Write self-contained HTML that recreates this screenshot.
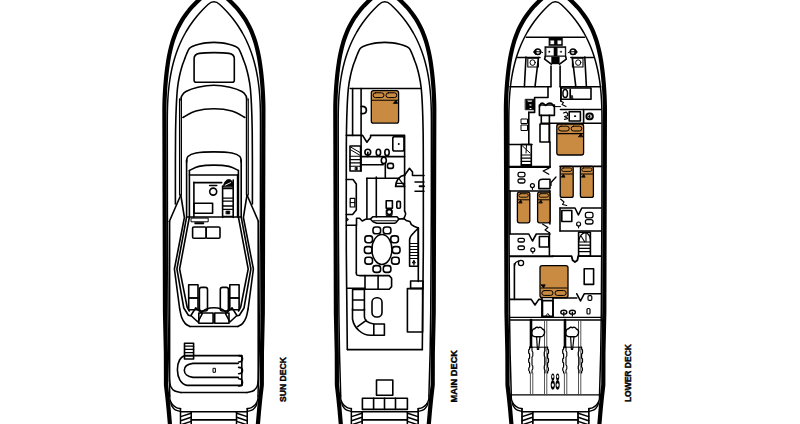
<!DOCTYPE html>
<html><head><meta charset="utf-8"><style>html,body{margin:0;padding:0;background:#fff;width:800px;height:424px;overflow:hidden}svg{display:block}</style></head>
<body>
<svg width="800" height="424" viewBox="0 0 800 424" stroke-linecap="round" stroke-linejoin="round">
<rect width="800" height="424" fill="#fff"/>
<path d="M170.60 434.00 L170.54 433.20 L170.47 432.20 L170.40 431.20 L170.33 430.20 L170.26 429.20 L170.19 428.20 L170.12 427.20 L170.05 426.20 L169.98 425.20 L169.91 424.20 L169.83 423.20 L169.75 422.20 L169.66 421.20 L169.57 420.20 L169.49 419.20 L169.40 418.20 L169.32 417.20 L169.23 416.20 L169.15 415.20 L169.06 414.20 L168.97 413.20 L168.89 412.20 L168.80 411.20 L168.72 410.20 L168.62 409.20 L168.52 408.20 L168.42 407.20 L168.32 406.20 L168.22 405.20 L168.12 404.20 L168.02 403.20 L167.92 402.20 L167.82 401.20 L167.72 400.20 L167.62 399.20 L167.52 398.20 L167.41 397.20 L167.29 396.20 L167.18 395.20 L167.06 394.20 L166.95 393.20 L166.83 392.20 L166.72 391.20 L166.60 390.20 L166.48 389.20 L166.37 388.20 L166.25 387.20 L166.14 386.20 L166.02 385.20 L166.00 384.20 L165.99 383.20 L165.99 382.20 L165.99 381.20 L165.99 380.20 L165.98 379.20 L165.98 378.20 L165.98 377.20 L165.97 376.20 L165.97 375.20 L165.97 374.20 L165.96 373.20 L165.96 372.20 L165.96 371.20 L165.95 370.20 L165.95 369.20 L165.95 368.20 L165.94 367.20 L165.94 366.20 L165.94 365.20 L165.94 364.20 L165.93 363.20 L165.93 362.20 L165.93 361.20 L165.92 360.20 L165.92 359.20 L165.92 358.20 L165.91 357.20 L165.91 356.20 L165.91 355.20 L165.90 354.20 L165.90 353.20 L165.88 352.20 L165.86 351.20 L165.84 350.20 L165.81 349.20 L165.79 348.20 L165.77 347.20 L165.75 346.20 L165.72 345.20 L165.70 344.20 L165.68 343.20 L165.66 342.20 L165.63 341.20 L165.61 340.20 L165.59 339.20 L165.57 338.20 L165.54 337.20 L165.52 336.20 L165.50 335.20 L165.48 334.20 L165.45 333.20 L165.43 332.20 L165.41 331.20 L165.39 330.20 L165.36 329.20 L165.34 328.20 L165.32 327.20 L165.30 326.20 L165.27 325.20 L165.25 324.20 L165.23 323.20 L165.21 322.20 L165.18 321.20 L165.16 320.20 L165.14 319.20 L165.12 318.20 L165.09 317.20 L165.07 316.20 L165.05 315.20 L165.03 314.20 L165.00 313.20 L165.00 312.20 L164.99 311.20 L164.99 310.20 L164.99 309.20 L164.99 308.20 L164.98 307.20 L164.98 306.20 L164.98 305.20 L164.97 304.20 L164.97 303.20 L164.97 302.20 L164.96 301.20 L164.96 300.20 L164.96 299.20 L164.96 298.20 L164.95 297.20 L164.95 296.20 L164.95 295.20 L164.94 294.20 L164.94 293.20 L164.94 292.20 L164.93 291.20 L164.93 290.20 L164.93 289.20 L164.93 288.20 L164.92 287.20 L164.92 286.20 L164.92 285.20 L164.91 284.20 L164.91 283.20 L164.91 282.20 L164.90 281.20 L164.90 280.20 L164.90 279.20 L164.90 278.20 L164.89 277.20 L164.89 276.20 L164.89 275.20 L164.88 274.20 L164.88 273.20 L164.88 272.20 L164.87 271.20 L164.87 270.20 L164.87 269.20 L164.87 268.20 L164.86 267.20 L164.86 266.20 L164.86 265.20 L164.85 264.20 L164.85 263.20 L164.85 262.20 L164.84 261.20 L164.84 260.20 L164.84 259.20 L164.84 258.20 L164.83 257.20 L164.83 256.20 L164.83 255.20 L164.82 254.20 L164.82 253.20 L164.82 252.20 L164.81 251.20 L164.81 250.20 L164.81 249.20 L164.81 248.20 L164.80 247.20 L164.80 246.20 L164.80 245.20 L164.79 244.20 L164.79 243.20 L164.79 242.20 L164.78 241.20 L164.78 240.20 L164.78 239.20 L164.78 238.20 L164.77 237.20 L164.77 236.20 L164.77 235.20 L164.76 234.20 L164.76 233.20 L164.76 232.20 L164.75 231.20 L164.75 230.20 L164.75 229.20 L164.75 228.20 L164.74 227.20 L164.74 226.20 L164.74 225.20 L164.73 224.20 L164.73 223.20 L164.73 222.20 L164.72 221.20 L164.72 220.20 L164.72 219.20 L164.72 218.20 L164.71 217.20 L164.71 216.20 L164.71 215.20 L164.70 214.20 L164.70 213.20 L164.70 212.20 L164.69 211.20 L164.69 210.20 L164.69 209.20 L164.69 208.20 L164.68 207.20 L164.68 206.20 L164.68 205.20 L164.67 204.20 L164.67 203.20 L164.67 202.20 L164.67 201.20 L164.66 200.20 L164.66 199.20 L164.66 198.20 L164.65 197.20 L164.65 196.20 L164.65 195.20 L164.65 194.20 L164.64 193.20 L164.64 192.20 L164.64 191.20 L164.63 190.20 L164.63 189.20 L164.63 188.20 L164.62 187.20 L164.62 186.20 L164.62 185.20 L164.62 184.20 L164.61 183.20 L164.61 182.20 L164.61 181.20 L164.60 180.20 L164.60 179.20 L164.60 178.20 L164.60 177.20 L164.59 176.20 L164.59 175.20 L164.59 174.20 L164.58 173.20 L164.58 172.20 L164.58 171.20 L164.58 170.20 L164.57 169.20 L164.57 168.20 L164.57 167.20 L164.56 166.20 L164.56 165.20 L164.56 164.20 L164.55 163.20 L164.55 162.20 L164.55 161.20 L164.55 160.20 L164.54 159.20 L164.54 158.20 L164.54 157.20 L164.53 156.20 L164.53 155.20 L164.53 154.20 L164.53 153.20 L164.52 152.20 L164.52 151.20 L164.52 150.20 L164.51 149.20 L164.51 148.20 L164.51 147.20 L164.51 146.20 L164.50 145.20 L164.50 144.20 L164.50 143.20 L164.49 142.20 L164.49 141.20 L164.49 140.20 L164.49 139.20 L164.48 138.20 L164.48 137.20 L164.48 136.20 L164.47 135.20 L164.47 134.20 L164.47 133.20 L164.46 132.20 L164.46 131.20 L164.46 130.20 L164.46 129.20 L164.45 128.20 L164.45 127.20 L164.45 126.20 L164.44 125.20 L164.44 124.20 L164.44 123.20 L164.44 122.20 L164.43 121.20 L164.43 120.20 L164.43 119.20 L164.42 118.20 L164.42 117.20 L164.42 116.20 L164.42 115.20 L164.41 114.20 L164.41 113.20 L164.41 112.20 L164.40 111.20 L164.40 110.20 L164.40 109.20 L164.41 108.20 L164.42 107.20 L164.43 106.20 L164.45 105.20 L164.47 104.20 L164.49 103.20 L164.52 102.20 L164.55 101.20 L164.58 100.20 L164.62 99.20 L164.66 98.20 L164.71 97.20 L164.75 96.20 L164.80 95.20 L164.85 94.20 L164.91 93.20 L164.97 92.20 L165.02 91.20 L165.09 90.20 L165.15 89.20 L165.22 88.20 L165.29 87.20 L165.36 86.20 L165.44 85.20 L165.52 84.20 L165.60 83.20 L165.68 82.20 L165.77 81.20 L165.86 80.20 L165.95 79.20 L166.04 78.20 L166.14 77.20 L166.24 76.20 L166.35 75.20 L166.45 74.20 L166.56 73.20 L166.68 72.20 L166.79 71.20 L166.92 70.20 L167.04 69.20 L167.17 68.20 L167.30 67.20 L167.44 66.20 L167.58 65.20 L167.72 64.20 L167.87 63.20 L168.02 62.20 L168.18 61.20 L168.35 60.20 L168.52 59.20 L168.69 58.20 L168.87 57.20 L169.06 56.20 L169.25 55.20 L169.45 54.20 L169.66 53.20 L169.87 52.20 L170.09 51.20 L170.32 50.20 L170.55 49.20 L170.79 48.20 L171.04 47.20 L171.30 46.20 L171.57 45.20 L171.85 44.20 L172.13 43.20 L172.43 42.20 L172.73 41.20 L173.05 40.20 L173.37 39.20 L173.71 38.20 L174.06 37.20 L174.42 36.20 L174.79 35.20 L175.18 34.20 L175.57 33.20 L175.98 32.20 L176.41 31.20 L176.84 30.20 L177.29 29.20 L177.76 28.20 L178.24 27.20 L178.74 26.20 L179.25 25.20 L179.78 24.20 L180.33 23.20 L180.89 22.20 L181.47 21.20 L182.07 20.20 L182.69 19.20 L183.32 18.20 L183.98 17.20 L184.66 16.20 L185.35 15.20 L186.07 14.20 L186.81 13.20 L187.57 12.20 L188.36 11.20 L189.16 10.20 L190.00 9.20 L190.85 8.20 L191.73 7.20 L192.64 6.20 L193.57 5.20 L194.53 4.20 L195.51 3.20 L196.53 2.20 L197.57 1.20 L198.64 0.20 L199.74 -0.80 L200.87 -1.80 L202.03 -2.80 L203.22 -3.80 L204.44 -4.80 L205.70 -5.80 L206.99 -6.80 L208.31 -7.80 L209.67 -8.80 L211.07 -9.80 L212.50 -10.80 L213.90 -11.80 L215.30 -10.80 L216.73 -9.80 L218.13 -8.80 L219.49 -7.80 L220.81 -6.80 L222.10 -5.80 L223.36 -4.80 L224.58 -3.80 L225.77 -2.80 L226.93 -1.80 L228.06 -0.80 L229.16 0.20 L230.23 1.20 L231.27 2.20 L232.29 3.20 L233.27 4.20 L234.23 5.20 L235.16 6.20 L236.07 7.20 L236.95 8.20 L237.80 9.20 L238.64 10.20 L239.44 11.20 L240.23 12.20 L240.99 13.20 L241.73 14.20 L242.45 15.20 L243.14 16.20 L243.82 17.20 L244.48 18.20 L245.11 19.20 L245.73 20.20 L246.33 21.20 L246.91 22.20 L247.47 23.20 L248.02 24.20 L248.55 25.20 L249.06 26.20 L249.56 27.20 L250.04 28.20 L250.51 29.20 L250.96 30.20 L251.39 31.20 L251.82 32.20 L252.23 33.20 L252.62 34.20 L253.01 35.20 L253.38 36.20 L253.74 37.20 L254.09 38.20 L254.43 39.20 L254.75 40.20 L255.07 41.20 L255.37 42.20 L255.67 43.20 L255.95 44.20 L256.23 45.20 L256.50 46.20 L256.76 47.20 L257.01 48.20 L257.25 49.20 L257.48 50.20 L257.71 51.20 L257.93 52.20 L258.14 53.20 L258.35 54.20 L258.55 55.20 L258.74 56.20 L258.93 57.20 L259.11 58.20 L259.28 59.20 L259.45 60.20 L259.62 61.20 L259.78 62.20 L259.93 63.20 L260.08 64.20 L260.22 65.20 L260.36 66.20 L260.50 67.20 L260.63 68.20 L260.76 69.20 L260.88 70.20 L261.01 71.20 L261.12 72.20 L261.24 73.20 L261.35 74.20 L261.45 75.20 L261.56 76.20 L261.66 77.20 L261.76 78.20 L261.85 79.20 L261.94 80.20 L262.03 81.20 L262.12 82.20 L262.20 83.20 L262.28 84.20 L262.36 85.20 L262.44 86.20 L262.51 87.20 L262.58 88.20 L262.65 89.20 L262.71 90.20 L262.78 91.20 L262.83 92.20 L262.89 93.20 L262.95 94.20 L263.00 95.20 L263.05 96.20 L263.09 97.20 L263.14 98.20 L263.18 99.20 L263.22 100.20 L263.25 101.20 L263.28 102.20 L263.31 103.20 L263.33 104.20 L263.35 105.20 L263.37 106.20 L263.38 107.20 L263.39 108.20 L263.40 109.20 L263.40 110.20 L263.40 111.20 L263.39 112.20 L263.39 113.20 L263.39 114.20 L263.38 115.20 L263.38 116.20 L263.38 117.20 L263.38 118.20 L263.37 119.20 L263.37 120.20 L263.37 121.20 L263.36 122.20 L263.36 123.20 L263.36 124.20 L263.36 125.20 L263.35 126.20 L263.35 127.20 L263.35 128.20 L263.34 129.20 L263.34 130.20 L263.34 131.20 L263.34 132.20 L263.33 133.20 L263.33 134.20 L263.33 135.20 L263.32 136.20 L263.32 137.20 L263.32 138.20 L263.31 139.20 L263.31 140.20 L263.31 141.20 L263.31 142.20 L263.30 143.20 L263.30 144.20 L263.30 145.20 L263.29 146.20 L263.29 147.20 L263.29 148.20 L263.29 149.20 L263.28 150.20 L263.28 151.20 L263.28 152.20 L263.27 153.20 L263.27 154.20 L263.27 155.20 L263.27 156.20 L263.26 157.20 L263.26 158.20 L263.26 159.20 L263.25 160.20 L263.25 161.20 L263.25 162.20 L263.25 163.20 L263.24 164.20 L263.24 165.20 L263.24 166.20 L263.23 167.20 L263.23 168.20 L263.23 169.20 L263.22 170.20 L263.22 171.20 L263.22 172.20 L263.22 173.20 L263.21 174.20 L263.21 175.20 L263.21 176.20 L263.20 177.20 L263.20 178.20 L263.20 179.20 L263.20 180.20 L263.19 181.20 L263.19 182.20 L263.19 183.20 L263.18 184.20 L263.18 185.20 L263.18 186.20 L263.18 187.20 L263.17 188.20 L263.17 189.20 L263.17 190.20 L263.16 191.20 L263.16 192.20 L263.16 193.20 L263.15 194.20 L263.15 195.20 L263.15 196.20 L263.15 197.20 L263.14 198.20 L263.14 199.20 L263.14 200.20 L263.13 201.20 L263.13 202.20 L263.13 203.20 L263.13 204.20 L263.12 205.20 L263.12 206.20 L263.12 207.20 L263.11 208.20 L263.11 209.20 L263.11 210.20 L263.11 211.20 L263.10 212.20 L263.10 213.20 L263.10 214.20 L263.09 215.20 L263.09 216.20 L263.09 217.20 L263.08 218.20 L263.08 219.20 L263.08 220.20 L263.08 221.20 L263.07 222.20 L263.07 223.20 L263.07 224.20 L263.06 225.20 L263.06 226.20 L263.06 227.20 L263.05 228.20 L263.05 229.20 L263.05 230.20 L263.05 231.20 L263.04 232.20 L263.04 233.20 L263.04 234.20 L263.03 235.20 L263.03 236.20 L263.03 237.20 L263.02 238.20 L263.02 239.20 L263.02 240.20 L263.02 241.20 L263.01 242.20 L263.01 243.20 L263.01 244.20 L263.00 245.20 L263.00 246.20 L263.00 247.20 L262.99 248.20 L262.99 249.20 L262.99 250.20 L262.99 251.20 L262.98 252.20 L262.98 253.20 L262.98 254.20 L262.97 255.20 L262.97 256.20 L262.97 257.20 L262.96 258.20 L262.96 259.20 L262.96 260.20 L262.96 261.20 L262.95 262.20 L262.95 263.20 L262.95 264.20 L262.94 265.20 L262.94 266.20 L262.94 267.20 L262.93 268.20 L262.93 269.20 L262.93 270.20 L262.93 271.20 L262.92 272.20 L262.92 273.20 L262.92 274.20 L262.91 275.20 L262.91 276.20 L262.91 277.20 L262.90 278.20 L262.90 279.20 L262.90 280.20 L262.90 281.20 L262.89 282.20 L262.89 283.20 L262.89 284.20 L262.88 285.20 L262.88 286.20 L262.88 287.20 L262.87 288.20 L262.87 289.20 L262.87 290.20 L262.87 291.20 L262.86 292.20 L262.86 293.20 L262.86 294.20 L262.85 295.20 L262.85 296.20 L262.85 297.20 L262.84 298.20 L262.84 299.20 L262.84 300.20 L262.84 301.20 L262.83 302.20 L262.83 303.20 L262.83 304.20 L262.82 305.20 L262.82 306.20 L262.82 307.20 L262.81 308.20 L262.81 309.20 L262.81 310.20 L262.81 311.20 L262.80 312.20 L262.80 313.20 L262.77 314.20 L262.75 315.20 L262.73 316.20 L262.71 317.20 L262.68 318.20 L262.66 319.20 L262.64 320.20 L262.62 321.20 L262.59 322.20 L262.57 323.20 L262.55 324.20 L262.53 325.20 L262.50 326.20 L262.48 327.20 L262.46 328.20 L262.44 329.20 L262.41 330.20 L262.39 331.20 L262.37 332.20 L262.35 333.20 L262.32 334.20 L262.30 335.20 L262.28 336.20 L262.26 337.20 L262.23 338.20 L262.21 339.20 L262.19 340.20 L262.17 341.20 L262.14 342.20 L262.12 343.20 L262.10 344.20 L262.08 345.20 L262.05 346.20 L262.03 347.20 L262.01 348.20 L261.99 349.20 L261.96 350.20 L261.94 351.20 L261.92 352.20 L261.90 353.20 L261.90 354.20 L261.89 355.20 L261.89 356.20 L261.89 357.20 L261.88 358.20 L261.88 359.20 L261.88 360.20 L261.87 361.20 L261.87 362.20 L261.87 363.20 L261.87 364.20 L261.86 365.20 L261.86 366.20 L261.86 367.20 L261.85 368.20 L261.85 369.20 L261.85 370.20 L261.84 371.20 L261.84 372.20 L261.84 373.20 L261.83 374.20 L261.83 375.20 L261.83 376.20 L261.82 377.20 L261.82 378.20 L261.82 379.20 L261.81 380.20 L261.81 381.20 L261.81 382.20 L261.81 383.20 L261.80 384.20 L261.78 385.20 L261.66 386.20 L261.55 387.20 L261.43 388.20 L261.32 389.20 L261.20 390.20 L261.08 391.20 L260.97 392.20 L260.85 393.20 L260.74 394.20 L260.62 395.20 L260.51 396.20 L260.39 397.20 L260.28 398.20 L260.18 399.20 L260.08 400.20 L259.98 401.20 L259.88 402.20 L259.78 403.20 L259.68 404.20 L259.58 405.20 L259.48 406.20 L259.38 407.20 L259.28 408.20 L259.18 409.20 L259.08 410.20 L259.00 411.20 L258.91 412.20 L258.83 413.20 L258.74 414.20 L258.65 415.20 L258.57 416.20 L258.48 417.20 L258.40 418.20 L258.31 419.20 L258.23 420.20 L258.14 421.20 L258.05 422.20 L257.97 423.20 L257.89 424.20 L257.82 425.20 L257.75 426.20 L257.68 427.20 L257.61 428.20 L257.54 429.20 L257.47 430.20 L257.40 431.20 L257.33 432.20 L257.26 433.20 L257.20 434.00" fill="none" stroke="#000" stroke-width="4.2" />
<path d="M169.80 396.00 L169.79 395.50 L169.76 394.50 L169.73 393.50 L169.70 392.50 L169.68 391.50 L169.65 390.50 L169.62 389.50 L169.60 388.50 L169.57 387.50 L169.54 386.50 L169.51 385.50 L169.49 384.50 L169.46 383.50 L169.43 382.50 L169.40 381.50 L169.37 380.50 L169.35 379.50 L169.32 378.50 L169.29 377.50 L169.26 376.50 L169.23 375.50 L169.20 374.50 L169.18 373.50 L169.15 372.50 L169.12 371.50 L169.09 370.50 L169.06 369.50 L169.04 368.50 L169.01 367.50 L168.98 366.50 L168.95 365.50 L168.92 364.50 L168.90 363.50 L168.87 362.50 L168.84 361.50 L168.81 360.50 L168.78 359.50 L168.75 358.50 L168.73 357.50 L168.70 356.50 L168.67 355.50 L168.64 354.50 L168.61 353.50 L168.59 352.50 L168.58 351.50 L168.56 350.50 L168.55 349.50 L168.53 348.50 L168.52 347.50 L168.50 346.50 L168.49 345.50 L168.47 344.50 L168.46 343.50 L168.44 342.50 L168.43 341.50 L168.41 340.50 L168.40 339.50 L168.38 338.50 L168.37 337.50 L168.35 336.50 L168.34 335.50 L168.32 334.50 L168.31 333.50 L168.29 332.50 L168.28 331.50 L168.26 330.50 L168.25 329.50 L168.23 328.50 L168.22 327.50 L168.20 326.50 L168.19 325.50 L168.17 324.50 L168.16 323.50 L168.14 322.50 L168.13 321.50 L168.11 320.50 L168.10 319.50 L168.08 318.50 L168.07 317.50 L168.05 316.50 L168.04 315.50 L168.02 314.50 L168.01 313.50 L168.00 312.50 L167.99 311.50 L167.99 310.50 L167.98 309.50 L167.97 308.50 L167.97 307.50 L167.96 306.50 L167.96 305.50 L167.95 304.50 L167.94 303.50 L167.94 302.50 L167.93 301.50 L167.93 300.50 L167.92 299.50 L167.91 298.50 L167.91 297.50 L167.90 296.50 L167.90 295.50 L167.89 294.50 L167.88 293.50 L167.88 292.50 L167.87 291.50 L167.87 290.50 L167.86 289.50 L167.85 288.50 L167.85 287.50 L167.84 286.50 L167.84 285.50 L167.83 284.50 L167.82 283.50 L167.82 282.50 L167.81 281.50 L167.81 280.50 L167.80 279.50 L167.79 278.50 L167.79 277.50 L167.78 276.50 L167.78 275.50 L167.77 274.50 L167.76 273.50 L167.76 272.50 L167.75 271.50 L167.75 270.50 L167.74 269.50 L167.73 268.50 L167.73 267.50 L167.72 266.50 L167.72 265.50 L167.71 264.50 L167.70 263.50 L167.70 262.50 L167.69 261.50 L167.69 260.50 L167.68 259.50 L167.67 258.50 L167.67 257.50 L167.66 256.50 L167.66 255.50 L167.65 254.50 L167.64 253.50 L167.64 252.50 L167.63 251.50 L167.62 250.50 L167.62 249.50 L167.61 248.50 L167.61 247.50 L167.60 246.50 L167.59 245.50 L167.59 244.50 L167.58 243.50 L167.58 242.50 L167.57 241.50 L167.56 240.50 L167.56 239.50 L167.55 238.50 L167.55 237.50 L167.54 236.50 L167.53 235.50 L167.53 234.50 L167.52 233.50 L167.52 232.50 L167.51 231.50 L167.50 230.50 L167.50 229.50 L167.49 228.50 L167.49 227.50 L167.48 226.50 L167.48 225.50 L167.47 224.50 L167.46 223.50 L167.46 222.50 L167.45 221.50 L167.44 220.50 L167.44 219.50 L167.43 218.50 L167.43 217.50 L167.42 216.50 L167.42 215.50 L167.41 214.50 L167.40 213.50 L167.40 212.50 L167.40 211.50 L167.40 210.50 L167.40 209.50 L167.39 208.50 L167.39 207.50 L167.39 206.50 L167.39 205.50 L167.39 204.50 L167.39 203.50 L167.39 202.50 L167.39 201.50 L167.39 200.50 L167.38 199.50 L167.38 198.50 L167.38 197.50 L167.38 196.50 L167.38 195.50 L167.38 194.50 L167.38 193.50 L167.38 192.50 L167.37 191.50 L167.37 190.50 L167.37 189.50 L167.37 188.50 L167.37 187.50 L167.37 186.50 L167.37 185.50 L167.37 184.50 L167.37 183.50 L167.36 182.50 L167.36 181.50 L167.36 180.50 L167.36 179.50 L167.36 178.50 L167.36 177.50 L167.36 176.50 L167.36 175.50 L167.35 174.50 L167.35 173.50 L167.35 172.50 L167.35 171.50 L167.35 170.50 L167.35 169.50 L167.35 168.50 L167.35 167.50 L167.35 166.50 L167.34 165.50 L167.34 164.50 L167.34 163.50 L167.34 162.50 L167.34 161.50 L167.34 160.50 L167.34 159.50 L167.34 158.50 L167.33 157.50 L167.33 156.50 L167.33 155.50 L167.33 154.50 L167.33 153.50 L167.33 152.50 L167.33 151.50 L167.33 150.50 L167.33 149.50 L167.32 148.50 L167.32 147.50 L167.32 146.50 L167.32 145.50 L167.32 144.50 L167.32 143.50 L167.32 142.50 L167.32 141.50 L167.31 140.50 L167.31 139.50 L167.31 138.50 L167.31 137.50 L167.31 136.50 L167.31 135.50 L167.31 134.50 L167.31 133.50 L167.31 132.50 L167.30 131.50 L167.30 130.50 L167.30 129.50 L167.30 128.50 L167.30 127.50 L167.30 126.50 L167.30 125.50 L167.30 124.50 L167.30 123.50 L167.30 122.50 L167.30 121.50 L167.31 120.50 L167.31 119.50 L167.32 118.50 L167.32 117.50 L167.33 116.50 L167.34 115.50 L167.35 114.50 L167.37 113.50 L167.38 112.50 L167.40 111.50 L167.42 110.50 L167.45 109.50 L167.47 108.50 L167.50 107.50 L167.53 106.50 L167.57 105.50 L167.61 104.50 L167.65 103.50 L167.69 102.50 L167.74 101.50 L167.79 100.50 L167.85 99.50 L167.91 98.50 L167.97 97.50 L168.04 96.50 L168.11 95.50 L168.19 94.50 L168.27 93.50 L168.35 92.50 L168.44 91.50 L168.53 90.50 L168.63 89.50 L168.73 88.50 L168.84 87.50 L168.96 86.50 L169.07 85.50 L169.20 84.50 L169.33 83.50 L169.46 82.50 L169.60 81.50 L169.75 80.50 L169.90 79.50 L170.05 78.50 L170.22 77.50 L170.38 76.50 L170.56 75.50 L170.74 74.50 L170.93 73.50 L171.12 72.50 L171.32 71.50 L171.53 70.50 L171.74 69.50 L171.96 68.50 L172.19 67.50 L172.42 66.50 L172.67 65.50 L172.92 64.50 L173.17 63.50 L173.44 62.50 L173.71 61.50 L173.99 60.50 L174.28 59.50 L174.57 58.50 L174.87 57.50 L175.19 56.50 L175.51 55.50 L175.84 54.50 L176.18 53.50 L176.52 52.50 L176.88 51.50 L177.25 50.50 L177.62 49.50 L178.01 48.50 L178.40 47.50 L178.80 46.50 L179.22 45.50 L179.65 44.50 L180.08 43.50 L180.53 42.50 L180.99 41.50 L181.45 40.50 L181.93 39.50 L182.43 38.50 L182.93 37.50 L183.45 36.50 L183.97 35.50 L184.51 34.50 L185.07 33.50 L185.63 32.50 L186.21 31.50 L186.81 30.50 L187.42 29.50 L188.04 28.50 L188.67 27.50 L189.32 26.50 L189.99 25.50 L190.67 24.50 L191.37 23.50 L192.08 22.50 L192.81 21.50 L193.55 20.50 L194.32 19.50 L195.10 18.50 L195.89 17.50 L196.71 16.50 L197.54 15.50 L198.40 14.50 L199.27 13.50 L200.16 12.50 L201.07 11.50 L202.00 10.50 L202.95 9.50 L203.93 8.50 L204.92 7.50 L205.94 6.50 L206.98 5.50 L208.04 4.50 Q213.90 -0.95 219.76 4.50 L220.82 5.50 L221.86 6.50 L222.88 7.50 L223.87 8.50 L224.85 9.50 L225.80 10.50 L226.73 11.50 L227.64 12.50 L228.53 13.50 L229.40 14.50 L230.26 15.50 L231.09 16.50 L231.91 17.50 L232.70 18.50 L233.48 19.50 L234.25 20.50 L234.99 21.50 L235.72 22.50 L236.43 23.50 L237.13 24.50 L237.81 25.50 L238.48 26.50 L239.13 27.50 L239.76 28.50 L240.38 29.50 L240.99 30.50 L241.59 31.50 L242.17 32.50 L242.73 33.50 L243.29 34.50 L243.83 35.50 L244.35 36.50 L244.87 37.50 L245.37 38.50 L245.87 39.50 L246.35 40.50 L246.81 41.50 L247.27 42.50 L247.72 43.50 L248.15 44.50 L248.58 45.50 L249.00 46.50 L249.40 47.50 L249.79 48.50 L250.18 49.50 L250.55 50.50 L250.92 51.50 L251.28 52.50 L251.62 53.50 L251.96 54.50 L252.29 55.50 L252.61 56.50 L252.93 57.50 L253.23 58.50 L253.52 59.50 L253.81 60.50 L254.09 61.50 L254.36 62.50 L254.63 63.50 L254.88 64.50 L255.13 65.50 L255.38 66.50 L255.61 67.50 L255.84 68.50 L256.06 69.50 L256.27 70.50 L256.48 71.50 L256.68 72.50 L256.87 73.50 L257.06 74.50 L257.24 75.50 L257.42 76.50 L257.58 77.50 L257.75 78.50 L257.90 79.50 L258.05 80.50 L258.20 81.50 L258.34 82.50 L258.47 83.50 L258.60 84.50 L258.73 85.50 L258.84 86.50 L258.96 87.50 L259.07 88.50 L259.17 89.50 L259.27 90.50 L259.36 91.50 L259.45 92.50 L259.53 93.50 L259.61 94.50 L259.69 95.50 L259.76 96.50 L259.83 97.50 L259.89 98.50 L259.95 99.50 L260.01 100.50 L260.06 101.50 L260.11 102.50 L260.15 103.50 L260.19 104.50 L260.23 105.50 L260.27 106.50 L260.30 107.50 L260.33 108.50 L260.35 109.50 L260.38 110.50 L260.40 111.50 L260.42 112.50 L260.43 113.50 L260.45 114.50 L260.46 115.50 L260.47 116.50 L260.48 117.50 L260.48 118.50 L260.49 119.50 L260.49 120.50 L260.50 121.50 L260.50 122.50 L260.50 123.50 L260.50 124.50 L260.50 125.50 L260.50 126.50 L260.50 127.50 L260.50 128.50 L260.50 129.50 L260.50 130.50 L260.50 131.50 L260.49 132.50 L260.49 133.50 L260.49 134.50 L260.49 135.50 L260.49 136.50 L260.49 137.50 L260.49 138.50 L260.49 139.50 L260.49 140.50 L260.48 141.50 L260.48 142.50 L260.48 143.50 L260.48 144.50 L260.48 145.50 L260.48 146.50 L260.48 147.50 L260.48 148.50 L260.47 149.50 L260.47 150.50 L260.47 151.50 L260.47 152.50 L260.47 153.50 L260.47 154.50 L260.47 155.50 L260.47 156.50 L260.47 157.50 L260.46 158.50 L260.46 159.50 L260.46 160.50 L260.46 161.50 L260.46 162.50 L260.46 163.50 L260.46 164.50 L260.46 165.50 L260.45 166.50 L260.45 167.50 L260.45 168.50 L260.45 169.50 L260.45 170.50 L260.45 171.50 L260.45 172.50 L260.45 173.50 L260.45 174.50 L260.44 175.50 L260.44 176.50 L260.44 177.50 L260.44 178.50 L260.44 179.50 L260.44 180.50 L260.44 181.50 L260.44 182.50 L260.43 183.50 L260.43 184.50 L260.43 185.50 L260.43 186.50 L260.43 187.50 L260.43 188.50 L260.43 189.50 L260.43 190.50 L260.43 191.50 L260.42 192.50 L260.42 193.50 L260.42 194.50 L260.42 195.50 L260.42 196.50 L260.42 197.50 L260.42 198.50 L260.42 199.50 L260.41 200.50 L260.41 201.50 L260.41 202.50 L260.41 203.50 L260.41 204.50 L260.41 205.50 L260.41 206.50 L260.41 207.50 L260.41 208.50 L260.40 209.50 L260.40 210.50 L260.40 211.50 L260.40 212.50 L260.40 213.50 L260.39 214.50 L260.38 215.50 L260.38 216.50 L260.37 217.50 L260.37 218.50 L260.36 219.50 L260.36 220.50 L260.35 221.50 L260.34 222.50 L260.34 223.50 L260.33 224.50 L260.32 225.50 L260.32 226.50 L260.31 227.50 L260.31 228.50 L260.30 229.50 L260.30 230.50 L260.29 231.50 L260.28 232.50 L260.28 233.50 L260.27 234.50 L260.26 235.50 L260.26 236.50 L260.25 237.50 L260.25 238.50 L260.24 239.50 L260.24 240.50 L260.23 241.50 L260.22 242.50 L260.22 243.50 L260.21 244.50 L260.20 245.50 L260.20 246.50 L260.19 247.50 L260.19 248.50 L260.18 249.50 L260.18 250.50 L260.17 251.50 L260.16 252.50 L260.16 253.50 L260.15 254.50 L260.14 255.50 L260.14 256.50 L260.13 257.50 L260.13 258.50 L260.12 259.50 L260.12 260.50 L260.11 261.50 L260.10 262.50 L260.10 263.50 L260.09 264.50 L260.09 265.50 L260.08 266.50 L260.07 267.50 L260.07 268.50 L260.06 269.50 L260.06 270.50 L260.05 271.50 L260.04 272.50 L260.04 273.50 L260.03 274.50 L260.02 275.50 L260.02 276.50 L260.01 277.50 L260.01 278.50 L260.00 279.50 L260.00 280.50 L259.99 281.50 L259.98 282.50 L259.98 283.50 L259.97 284.50 L259.97 285.50 L259.96 286.50 L259.95 287.50 L259.95 288.50 L259.94 289.50 L259.94 290.50 L259.93 291.50 L259.92 292.50 L259.92 293.50 L259.91 294.50 L259.90 295.50 L259.90 296.50 L259.89 297.50 L259.89 298.50 L259.88 299.50 L259.88 300.50 L259.87 301.50 L259.86 302.50 L259.86 303.50 L259.85 304.50 L259.85 305.50 L259.84 306.50 L259.83 307.50 L259.83 308.50 L259.82 309.50 L259.81 310.50 L259.81 311.50 L259.80 312.50 L259.79 313.50 L259.78 314.50 L259.76 315.50 L259.75 316.50 L259.73 317.50 L259.72 318.50 L259.70 319.50 L259.69 320.50 L259.67 321.50 L259.66 322.50 L259.64 323.50 L259.63 324.50 L259.61 325.50 L259.60 326.50 L259.58 327.50 L259.57 328.50 L259.55 329.50 L259.54 330.50 L259.52 331.50 L259.51 332.50 L259.49 333.50 L259.48 334.50 L259.46 335.50 L259.45 336.50 L259.43 337.50 L259.42 338.50 L259.40 339.50 L259.39 340.50 L259.37 341.50 L259.36 342.50 L259.34 343.50 L259.33 344.50 L259.31 345.50 L259.30 346.50 L259.28 347.50 L259.27 348.50 L259.25 349.50 L259.24 350.50 L259.22 351.50 L259.21 352.50 L259.19 353.50 L259.16 354.50 L259.13 355.50 L259.10 356.50 L259.07 357.50 L259.05 358.50 L259.02 359.50 L258.99 360.50 L258.96 361.50 L258.93 362.50 L258.90 363.50 L258.88 364.50 L258.85 365.50 L258.82 366.50 L258.79 367.50 L258.76 368.50 L258.74 369.50 L258.71 370.50 L258.68 371.50 L258.65 372.50 L258.62 373.50 L258.60 374.50 L258.57 375.50 L258.54 376.50 L258.51 377.50 L258.48 378.50 L258.45 379.50 L258.43 380.50 L258.40 381.50 L258.37 382.50 L258.34 383.50 L258.31 384.50 L258.29 385.50 L258.26 386.50 L258.23 387.50 L258.20 388.50 L258.18 389.50 L258.15 390.50 L258.12 391.50 L258.10 392.50 L258.07 393.50 L258.04 394.50 L258.01 395.50 L258.00 396.00" fill="none" stroke="#000" stroke-width="1.5" />
<path d="M258.00 396.00 C257.95 396.67 258.13 398.58 257.70 400.00 C257.27 401.42 256.45 403.23 255.40 404.50 C254.35 405.77 252.75 406.90 251.40 407.60 C250.05 408.30 247.98 408.52 247.30 408.70" fill="none" stroke="#000" stroke-width="1.4" />
<path d="M256.90 403.00 C256.77 403.47 256.77 404.70 256.10 405.80 C255.43 406.90 254.37 408.67 252.90 409.60 C251.43 410.53 248.23 411.10 247.30 411.40" fill="none" stroke="#000" stroke-width="1.4" />
<line x1="247.30" y1="408.50" x2="247.30" y2="424.00" stroke="#000" stroke-width="1.1"/>
<line x1="236.50" y1="412.20" x2="236.50" y2="424.00" stroke="#000" stroke-width="1.1"/>
<line x1="247.10" y1="416.60" x2="236.70" y2="413.20" stroke="#000" stroke-width="1.5"/>
<line x1="247.10" y1="420.70" x2="236.70" y2="417.30" stroke="#000" stroke-width="1.5"/>
<line x1="247.10" y1="424.80" x2="236.70" y2="421.40" stroke="#000" stroke-width="1.5"/>
<line x1="247.30" y1="408.50" x2="247.30" y2="424.00" stroke="#000" stroke-width="1.4"/>
<line x1="236.50" y1="412.20" x2="236.50" y2="424.00" stroke="#000" stroke-width="1.4"/>
<path d="M169.80 396.00 C169.85 396.67 169.67 398.58 170.10 400.00 C170.53 401.42 171.35 403.23 172.40 404.50 C173.45 405.77 175.05 406.90 176.40 407.60 C177.75 408.30 179.82 408.52 180.50 408.70" fill="none" stroke="#000" stroke-width="1.4" />
<path d="M170.90 403.00 C171.03 403.47 171.03 404.70 171.70 405.80 C172.37 406.90 173.43 408.67 174.90 409.60 C176.37 410.53 179.57 411.10 180.50 411.40" fill="none" stroke="#000" stroke-width="1.4" />
<line x1="180.50" y1="408.50" x2="180.50" y2="424.00" stroke="#000" stroke-width="1.1"/>
<line x1="191.30" y1="412.20" x2="191.30" y2="424.00" stroke="#000" stroke-width="1.1"/>
<line x1="180.70" y1="416.60" x2="191.10" y2="413.20" stroke="#000" stroke-width="1.5"/>
<line x1="180.70" y1="420.70" x2="191.10" y2="417.30" stroke="#000" stroke-width="1.5"/>
<line x1="180.70" y1="424.80" x2="191.10" y2="421.40" stroke="#000" stroke-width="1.5"/>
<line x1="180.50" y1="408.50" x2="180.50" y2="424.00" stroke="#000" stroke-width="1.4"/>
<line x1="191.30" y1="412.20" x2="191.30" y2="424.00" stroke="#000" stroke-width="1.4"/>
<line x1="180.50" y1="411.80" x2="247.30" y2="411.80" stroke="#000" stroke-width="1.4"/>
<line x1="191.30" y1="419.80" x2="236.50" y2="419.80" stroke="#000" stroke-width="1.8"/>
<path d="M175.40 204.00 C175.40 196.67 175.37 172.33 175.40 160.00 C175.43 147.67 175.45 139.00 175.60 130.00 C175.75 121.00 175.98 113.00 176.30 106.00 C176.62 99.00 176.97 93.00 177.50 88.00 C178.03 83.00 178.73 79.67 179.50 76.00 C180.27 72.33 181.30 68.67 182.10 66.00 C182.90 63.33 183.55 62.00 184.30 60.00 C185.05 58.00 185.77 55.90 186.60 54.00 C187.43 52.10 188.25 49.90 189.30 48.60 C190.35 47.30 191.30 46.92 192.90 46.20 C194.50 45.48 196.73 44.85 198.90 44.30 C201.07 43.75 203.40 43.22 205.90 42.90 C208.40 42.58 211.23 42.40 213.90 42.40 C216.57 42.40 219.40 42.58 221.90 42.90 C224.40 43.22 226.73 43.75 228.90 44.30 C231.07 44.85 233.30 45.48 234.90 46.20 C236.50 46.92 237.45 47.30 238.50 48.60 C239.55 49.90 240.37 52.10 241.20 54.00 C242.03 55.90 242.75 58.00 243.50 60.00 C244.25 62.00 244.90 63.33 245.70 66.00 C246.50 68.67 247.53 72.33 248.30 76.00 C249.07 79.67 249.77 83.00 250.30 88.00 C250.83 93.00 251.18 99.00 251.50 106.00 C251.82 113.00 252.05 121.00 252.20 130.00 C252.35 139.00 252.37 147.67 252.40 160.00 C252.43 172.33 252.40 196.67 252.40 204.00" fill="none" stroke="#000" stroke-width="1.6" />
<line x1="247.00" y1="195.00" x2="258.50" y2="221.50" stroke="#000" stroke-width="1.6"/>
<line x1="258.20" y1="221.50" x2="258.20" y2="381.00" stroke="#000" stroke-width="1.6"/>
<path d="M258.20 381.00 C258.02 381.92 257.90 384.87 257.10 386.50 C256.30 388.13 255.10 389.80 253.40 390.80 C251.70 391.80 247.98 392.22 246.90 392.50" fill="none" stroke="#000" stroke-width="1.6" />
<line x1="248.20" y1="99.00" x2="248.20" y2="195.00" stroke="#000" stroke-width="1.3"/>
<line x1="246.40" y1="97.00" x2="246.40" y2="195.00" stroke="#000" stroke-width="1.2"/>
<path d="M247.00 195.00 L243.40 217.50 L253.40 269.00 L248.10 309.00" fill="none" stroke="#000" stroke-width="1.6" />
<path d="M248.10 309.00 C247.77 310.42 247.03 315.07 246.10 317.50 C245.17 319.93 243.87 322.10 242.50 323.60 C241.13 325.10 238.67 326.02 237.90 326.50" fill="none" stroke="#000" stroke-width="1.6" />
<path d="M241.20 160.00 L241.20 217.00 L250.90 269.00 L244.00 308.00 L239.40 315.20 L237.40 315.80" fill="none" stroke="#000" stroke-width="1.6" />
<path d="M238.40 170.50 L238.40 217.00 L248.20 269.00 L240.70 307.00 L238.50 311.00" fill="none" stroke="#000" stroke-width="1.6" />
<line x1="180.80" y1="195.00" x2="169.30" y2="221.50" stroke="#000" stroke-width="1.6"/>
<line x1="169.60" y1="221.50" x2="169.60" y2="381.00" stroke="#000" stroke-width="1.6"/>
<path d="M169.60 381.00 C169.78 381.92 169.90 384.87 170.70 386.50 C171.50 388.13 172.70 389.80 174.40 390.80 C176.10 391.80 179.82 392.22 180.90 392.50" fill="none" stroke="#000" stroke-width="1.6" />
<line x1="179.60" y1="99.00" x2="179.60" y2="195.00" stroke="#000" stroke-width="1.3"/>
<line x1="181.40" y1="97.00" x2="181.40" y2="195.00" stroke="#000" stroke-width="1.2"/>
<path d="M180.80 195.00 L184.40 217.50 L174.40 269.00 L179.70 309.00" fill="none" stroke="#000" stroke-width="1.6" />
<path d="M179.70 309.00 C180.03 310.42 180.77 315.07 181.70 317.50 C182.63 319.93 183.93 322.10 185.30 323.60 C186.67 325.10 189.13 326.02 189.90 326.50" fill="none" stroke="#000" stroke-width="1.6" />
<path d="M186.60 160.00 L186.60 217.00 L176.90 269.00 L183.80 308.00 L188.40 315.20 L190.40 315.80" fill="none" stroke="#000" stroke-width="1.6" />
<path d="M189.40 170.50 L189.40 217.00 L179.60 269.00 L187.10 307.00 L189.30 311.00" fill="none" stroke="#000" stroke-width="1.6" />
<line x1="189.90" y1="326.50" x2="237.90" y2="326.50" stroke="#000" stroke-width="1.6"/>
<line x1="180.90" y1="392.50" x2="246.90" y2="392.50" stroke="#000" stroke-width="1.6"/>
<path d="M196.1 82.3 L232.3 82.3 Q234.3 82.3 234.3 80.3 L234.3 58.6 C234.3 55.2 232.2 54.0 229.0 53.4 C222.0 52.3 206.0 52.3 199.4 53.4 C196.2 54.0 194.1 55.2 194.1 58.6 L194.1 80.3 Q194.1 82.3 196.1 82.3 Z" fill="none" stroke="#000" stroke-width="1.6" />
<path d="M181.00 100.00 C181.12 99.33 180.88 97.42 181.70 96.00 C182.52 94.58 183.20 92.97 185.90 91.50 C188.60 90.03 193.23 88.25 197.90 87.20 C202.57 86.15 208.57 85.20 213.90 85.20 C219.23 85.20 225.23 86.15 229.90 87.20 C234.57 88.25 239.20 90.03 241.90 91.50 C244.60 92.97 245.28 94.58 246.10 96.00 C246.92 97.42 246.68 99.33 246.80 100.00" fill="none" stroke="#000" stroke-width="1.6" />
<path d="M182.90 117.50 C185.07 116.42 190.73 112.45 195.90 111.00 C201.07 109.55 207.90 108.80 213.90 108.80 C219.90 108.80 226.73 109.55 231.90 111.00 C237.07 112.45 242.73 116.42 244.90 117.50" fill="none" stroke="#000" stroke-width="1.6" />
<path d="M186.60 162.00 C186.82 161.08 186.35 158.00 187.90 156.50 C189.45 155.00 191.57 153.77 195.90 153.00 C200.23 152.23 207.90 151.90 213.90 151.90 C219.90 151.90 227.57 152.23 231.90 153.00 C236.23 153.77 238.35 155.00 239.90 156.50 C241.45 158.00 240.98 161.08 241.20 162.00" fill="none" stroke="#000" stroke-width="1.6" />
<path d="M189.40 170.50 C190.98 169.82 194.82 167.30 198.90 166.40 C202.98 165.50 208.90 165.10 213.90 165.10 C218.90 165.10 224.82 165.50 228.90 166.40 C232.98 167.30 236.82 169.82 238.40 170.50" fill="none" stroke="#000" stroke-width="1.6" />
<line x1="189.40" y1="175.00" x2="238.40" y2="175.00" stroke="#000" stroke-width="1.6"/>
<line x1="186.60" y1="217.00" x2="241.20" y2="217.00" stroke="#000" stroke-width="1.6"/>
<line x1="193.90" y1="182.30" x2="193.90" y2="217.00" stroke="#000" stroke-width="1.6"/>
<line x1="237.60" y1="175.00" x2="237.60" y2="217.00" stroke="#000" stroke-width="1.6"/>
<line x1="193.90" y1="182.60" x2="221.80" y2="182.60" stroke="#000" stroke-width="1.6"/>
<circle cx="213.20" cy="191.60" r="3.50" fill="none" stroke="#000" stroke-width="1.6"/>
<line x1="209.60" y1="185.40" x2="216.80" y2="185.40" stroke="#000" stroke-width="1.5"/>
<line x1="222.60" y1="186.00" x2="222.60" y2="217.40" stroke="#000" stroke-width="1.6"/>
<line x1="233.20" y1="180.00" x2="233.20" y2="217.40" stroke="#000" stroke-width="1.6"/>
<line x1="222.60" y1="188.60" x2="233.20" y2="188.60" stroke="#000" stroke-width="1.3"/>
<line x1="222.60" y1="198.20" x2="233.20" y2="198.20" stroke="#000" stroke-width="1.3"/>
<line x1="222.60" y1="201.20" x2="233.20" y2="201.20" stroke="#000" stroke-width="1.3"/>
<line x1="222.60" y1="206.00" x2="233.20" y2="206.00" stroke="#000" stroke-width="1.3"/>
<line x1="222.60" y1="209.40" x2="233.20" y2="209.40" stroke="#000" stroke-width="1.3"/>
<line x1="222.60" y1="216.40" x2="233.20" y2="216.40" stroke="#000" stroke-width="1.3"/>
<path d="M223.4 186.8 C223.8 182.6 226.0 179.8 228.6 179.6 C231.6 179.6 233.2 182.2 233.2 186.8 Z" fill="#000" stroke="#000" stroke-width="1.0" />
<path d="M225.2 185.2 L230.6 182.6" stroke="#fff" stroke-width="0.9"/>
<rect x="226.20" y="211.00" width="3.60" height="3.00" rx="0" fill="#000" stroke="#000" stroke-width="0.6"/>
<rect x="194.00" y="203.20" width="18.60" height="10.00" rx="0" fill="none" stroke="#000" stroke-width="1.6"/>
<rect x="191.40" y="218.10" width="16.80" height="3.70" rx="0" fill="none" stroke="#000" stroke-width="1.0"/>
<rect x="195.00" y="222.40" width="8.80" height="1.60" rx="0" fill="#000" stroke="#000" stroke-width="0.6"/>
<rect x="192.60" y="227.00" width="13.60" height="11.20" rx="1.3" fill="none" stroke="#000" stroke-width="1.6"/>
<rect x="206.20" y="227.00" width="13.80" height="11.20" rx="1.3" fill="none" stroke="#000" stroke-width="1.6"/>
<rect x="229.80" y="284.80" width="9.30" height="13.20" rx="0" fill="none" stroke="#000" stroke-width="1.6"/>
<rect x="229.80" y="298.00" width="9.30" height="11.80" rx="0" fill="none" stroke="#000" stroke-width="1.6"/>
<rect x="220.30" y="287.40" width="8.10" height="23.60" rx="2.2" fill="none" stroke="#000" stroke-width="1.6"/>
<path d="M232.10 307.80 L225.50 313.60 L229.90 322.00 L236.90 315.50Z" fill="none" stroke="#000" stroke-width="1.6" />
<rect x="188.70" y="284.80" width="9.30" height="13.20" rx="0" fill="none" stroke="#000" stroke-width="1.6"/>
<rect x="188.70" y="298.00" width="9.30" height="11.80" rx="0" fill="none" stroke="#000" stroke-width="1.6"/>
<rect x="199.40" y="287.40" width="8.10" height="23.60" rx="2.2" fill="none" stroke="#000" stroke-width="1.6"/>
<path d="M195.70 307.80 L202.30 313.60 L197.90 322.00 L190.90 315.50Z" fill="none" stroke="#000" stroke-width="1.6" />
<rect x="198.80" y="313.00" width="14.30" height="10.20" rx="0" fill="none" stroke="#000" stroke-width="1.6"/>
<rect x="214.70" y="313.00" width="14.30" height="10.20" rx="0" fill="none" stroke="#000" stroke-width="1.6"/>
<path d="M201.60 312.20 C202.33 311.70 203.95 309.93 206.00 309.20 C208.05 308.47 211.27 307.80 213.90 307.80 C216.53 307.80 219.75 308.47 221.80 309.20 C223.85 309.93 225.47 311.70 226.20 312.20" fill="none" stroke="#000" stroke-width="1.6" />
<rect x="184.50" y="343.20" width="9.10" height="15.80" rx="0" fill="none" stroke="#000" stroke-width="1.6"/>
<line x1="184.50" y1="346.20" x2="193.60" y2="346.20" stroke="#000" stroke-width="1.2"/>
<line x1="184.50" y1="349.40" x2="193.60" y2="349.40" stroke="#000" stroke-width="1.2"/>
<line x1="184.50" y1="352.60" x2="193.60" y2="352.60" stroke="#000" stroke-width="1.2"/>
<line x1="184.50" y1="355.80" x2="193.60" y2="355.80" stroke="#000" stroke-width="1.2"/>
<path d="M241.8 355.6 L185.5 355.6 C180.5 356.2 177.4 362 177.4 369.8 C177.4 377.6 181 384.2 187 385.4 L241.8 385.4" fill="none" stroke="#000" stroke-width="1.6" />
<path d="M238.2 363.4 L193 363.4 C187.5 364.2 184.3 367 184.3 370.3 C184.3 373.6 187.5 376.6 193 377.4 L238.2 377.4" fill="none" stroke="#000" stroke-width="1.6" />
<line x1="241.80" y1="355.60" x2="241.80" y2="385.60" stroke="#000" stroke-width="1.6"/>
<path d="M238.6 355.6 C243.8 355.6 243.8 362.0 238.6 362.0" fill="none" stroke="#000" stroke-width="1.6" />
<path d="M238.6 367.4 C243.8 367.4 243.8 373.8 238.6 373.8" fill="none" stroke="#000" stroke-width="1.6" />
<path d="M238.6 378.8 C243.8 378.8 243.8 386.0 238.6 386.0" fill="none" stroke="#000" stroke-width="1.6" />
<rect x="213.40" y="368.30" width="2.00" height="4.00" rx="0" fill="none" stroke="#000" stroke-width="1.0"/>
<path d="M341.50 434.00 L341.44 433.20 L341.37 432.20 L341.30 431.20 L341.23 430.20 L341.16 429.20 L341.09 428.20 L341.02 427.20 L340.95 426.20 L340.88 425.20 L340.81 424.20 L340.73 423.20 L340.65 422.20 L340.56 421.20 L340.47 420.20 L340.39 419.20 L340.30 418.20 L340.22 417.20 L340.13 416.20 L340.05 415.20 L339.96 414.20 L339.87 413.20 L339.79 412.20 L339.70 411.20 L339.62 410.20 L339.52 409.20 L339.42 408.20 L339.32 407.20 L339.22 406.20 L339.12 405.20 L339.02 404.20 L338.92 403.20 L338.82 402.20 L338.72 401.20 L338.62 400.20 L338.52 399.20 L338.42 398.20 L338.31 397.20 L338.19 396.20 L338.08 395.20 L337.96 394.20 L337.85 393.20 L337.73 392.20 L337.62 391.20 L337.50 390.20 L337.38 389.20 L337.27 388.20 L337.15 387.20 L337.04 386.20 L336.92 385.20 L336.90 384.20 L336.89 383.20 L336.89 382.20 L336.89 381.20 L336.88 380.20 L336.88 379.20 L336.88 378.20 L336.88 377.20 L336.87 376.20 L336.87 375.20 L336.87 374.20 L336.86 373.20 L336.86 372.20 L336.86 371.20 L336.85 370.20 L336.85 369.20 L336.85 368.20 L336.84 367.20 L336.84 366.20 L336.84 365.20 L336.84 364.20 L336.83 363.20 L336.83 362.20 L336.83 361.20 L336.82 360.20 L336.82 359.20 L336.82 358.20 L336.81 357.20 L336.81 356.20 L336.81 355.20 L336.80 354.20 L336.80 353.20 L336.78 352.20 L336.76 351.20 L336.74 350.20 L336.71 349.20 L336.69 348.20 L336.67 347.20 L336.65 346.20 L336.62 345.20 L336.60 344.20 L336.58 343.20 L336.56 342.20 L336.53 341.20 L336.51 340.20 L336.49 339.20 L336.47 338.20 L336.44 337.20 L336.42 336.20 L336.40 335.20 L336.38 334.20 L336.35 333.20 L336.33 332.20 L336.31 331.20 L336.29 330.20 L336.26 329.20 L336.24 328.20 L336.22 327.20 L336.20 326.20 L336.17 325.20 L336.15 324.20 L336.13 323.20 L336.11 322.20 L336.08 321.20 L336.06 320.20 L336.04 319.20 L336.02 318.20 L335.99 317.20 L335.97 316.20 L335.95 315.20 L335.93 314.20 L335.90 313.20 L335.90 312.20 L335.89 311.20 L335.89 310.20 L335.89 309.20 L335.89 308.20 L335.88 307.20 L335.88 306.20 L335.88 305.20 L335.87 304.20 L335.87 303.20 L335.87 302.20 L335.86 301.20 L335.86 300.20 L335.86 299.20 L335.86 298.20 L335.85 297.20 L335.85 296.20 L335.85 295.20 L335.84 294.20 L335.84 293.20 L335.84 292.20 L335.83 291.20 L335.83 290.20 L335.83 289.20 L335.83 288.20 L335.82 287.20 L335.82 286.20 L335.82 285.20 L335.81 284.20 L335.81 283.20 L335.81 282.20 L335.80 281.20 L335.80 280.20 L335.80 279.20 L335.80 278.20 L335.79 277.20 L335.79 276.20 L335.79 275.20 L335.78 274.20 L335.78 273.20 L335.78 272.20 L335.77 271.20 L335.77 270.20 L335.77 269.20 L335.77 268.20 L335.76 267.20 L335.76 266.20 L335.76 265.20 L335.75 264.20 L335.75 263.20 L335.75 262.20 L335.74 261.20 L335.74 260.20 L335.74 259.20 L335.74 258.20 L335.73 257.20 L335.73 256.20 L335.73 255.20 L335.72 254.20 L335.72 253.20 L335.72 252.20 L335.71 251.20 L335.71 250.20 L335.71 249.20 L335.71 248.20 L335.70 247.20 L335.70 246.20 L335.70 245.20 L335.69 244.20 L335.69 243.20 L335.69 242.20 L335.68 241.20 L335.68 240.20 L335.68 239.20 L335.68 238.20 L335.67 237.20 L335.67 236.20 L335.67 235.20 L335.66 234.20 L335.66 233.20 L335.66 232.20 L335.65 231.20 L335.65 230.20 L335.65 229.20 L335.65 228.20 L335.64 227.20 L335.64 226.20 L335.64 225.20 L335.63 224.20 L335.63 223.20 L335.63 222.20 L335.62 221.20 L335.62 220.20 L335.62 219.20 L335.62 218.20 L335.61 217.20 L335.61 216.20 L335.61 215.20 L335.60 214.20 L335.60 213.20 L335.60 212.20 L335.59 211.20 L335.59 210.20 L335.59 209.20 L335.59 208.20 L335.58 207.20 L335.58 206.20 L335.58 205.20 L335.57 204.20 L335.57 203.20 L335.57 202.20 L335.57 201.20 L335.56 200.20 L335.56 199.20 L335.56 198.20 L335.55 197.20 L335.55 196.20 L335.55 195.20 L335.55 194.20 L335.54 193.20 L335.54 192.20 L335.54 191.20 L335.53 190.20 L335.53 189.20 L335.53 188.20 L335.52 187.20 L335.52 186.20 L335.52 185.20 L335.52 184.20 L335.51 183.20 L335.51 182.20 L335.51 181.20 L335.50 180.20 L335.50 179.20 L335.50 178.20 L335.50 177.20 L335.49 176.20 L335.49 175.20 L335.49 174.20 L335.48 173.20 L335.48 172.20 L335.48 171.20 L335.48 170.20 L335.47 169.20 L335.47 168.20 L335.47 167.20 L335.46 166.20 L335.46 165.20 L335.46 164.20 L335.45 163.20 L335.45 162.20 L335.45 161.20 L335.45 160.20 L335.44 159.20 L335.44 158.20 L335.44 157.20 L335.43 156.20 L335.43 155.20 L335.43 154.20 L335.43 153.20 L335.42 152.20 L335.42 151.20 L335.42 150.20 L335.41 149.20 L335.41 148.20 L335.41 147.20 L335.41 146.20 L335.40 145.20 L335.40 144.20 L335.40 143.20 L335.39 142.20 L335.39 141.20 L335.39 140.20 L335.39 139.20 L335.38 138.20 L335.38 137.20 L335.38 136.20 L335.37 135.20 L335.37 134.20 L335.37 133.20 L335.36 132.20 L335.36 131.20 L335.36 130.20 L335.36 129.20 L335.35 128.20 L335.35 127.20 L335.35 126.20 L335.34 125.20 L335.34 124.20 L335.34 123.20 L335.34 122.20 L335.33 121.20 L335.33 120.20 L335.33 119.20 L335.32 118.20 L335.32 117.20 L335.32 116.20 L335.32 115.20 L335.31 114.20 L335.31 113.20 L335.31 112.20 L335.30 111.20 L335.30 110.20 L335.30 109.20 L335.31 108.20 L335.32 107.20 L335.33 106.20 L335.35 105.20 L335.37 104.20 L335.39 103.20 L335.42 102.20 L335.45 101.20 L335.48 100.20 L335.52 99.20 L335.56 98.20 L335.61 97.20 L335.65 96.20 L335.70 95.20 L335.75 94.20 L335.81 93.20 L335.87 92.20 L335.92 91.20 L335.99 90.20 L336.05 89.20 L336.12 88.20 L336.19 87.20 L336.26 86.20 L336.34 85.20 L336.42 84.20 L336.50 83.20 L336.58 82.20 L336.67 81.20 L336.76 80.20 L336.85 79.20 L336.94 78.20 L337.04 77.20 L337.14 76.20 L337.25 75.20 L337.35 74.20 L337.46 73.20 L337.58 72.20 L337.69 71.20 L337.82 70.20 L337.94 69.20 L338.07 68.20 L338.20 67.20 L338.34 66.20 L338.48 65.20 L338.62 64.20 L338.77 63.20 L338.92 62.20 L339.08 61.20 L339.25 60.20 L339.42 59.20 L339.59 58.20 L339.77 57.20 L339.96 56.20 L340.15 55.20 L340.35 54.20 L340.56 53.20 L340.77 52.20 L340.99 51.20 L341.22 50.20 L341.45 49.20 L341.69 48.20 L341.94 47.20 L342.20 46.20 L342.47 45.20 L342.75 44.20 L343.03 43.20 L343.33 42.20 L343.63 41.20 L343.95 40.20 L344.27 39.20 L344.61 38.20 L344.96 37.20 L345.32 36.20 L345.69 35.20 L346.08 34.20 L346.47 33.20 L346.88 32.20 L347.31 31.20 L347.74 30.20 L348.19 29.20 L348.66 28.20 L349.14 27.20 L349.64 26.20 L350.15 25.20 L350.68 24.20 L351.23 23.20 L351.79 22.20 L352.37 21.20 L352.97 20.20 L353.59 19.20 L354.22 18.20 L354.88 17.20 L355.56 16.20 L356.25 15.20 L356.97 14.20 L357.71 13.20 L358.47 12.20 L359.26 11.20 L360.06 10.20 L360.90 9.20 L361.75 8.20 L362.63 7.20 L363.54 6.20 L364.47 5.20 L365.43 4.20 L366.41 3.20 L367.43 2.20 L368.47 1.20 L369.54 0.20 L370.64 -0.80 L371.77 -1.80 L372.93 -2.80 L374.12 -3.80 L375.34 -4.80 L376.60 -5.80 L377.89 -6.80 L379.21 -7.80 L380.57 -8.80 L381.97 -9.80 L383.40 -10.80 L384.80 -11.80 L386.20 -10.80 L387.63 -9.80 L389.03 -8.80 L390.39 -7.80 L391.71 -6.80 L393.00 -5.80 L394.26 -4.80 L395.48 -3.80 L396.67 -2.80 L397.83 -1.80 L398.96 -0.80 L400.06 0.20 L401.13 1.20 L402.17 2.20 L403.19 3.20 L404.17 4.20 L405.13 5.20 L406.06 6.20 L406.97 7.20 L407.85 8.20 L408.70 9.20 L409.54 10.20 L410.34 11.20 L411.13 12.20 L411.89 13.20 L412.63 14.20 L413.35 15.20 L414.04 16.20 L414.72 17.20 L415.38 18.20 L416.01 19.20 L416.63 20.20 L417.23 21.20 L417.81 22.20 L418.37 23.20 L418.92 24.20 L419.45 25.20 L419.96 26.20 L420.46 27.20 L420.94 28.20 L421.41 29.20 L421.86 30.20 L422.29 31.20 L422.72 32.20 L423.13 33.20 L423.52 34.20 L423.91 35.20 L424.28 36.20 L424.64 37.20 L424.99 38.20 L425.33 39.20 L425.65 40.20 L425.97 41.20 L426.27 42.20 L426.57 43.20 L426.85 44.20 L427.13 45.20 L427.40 46.20 L427.66 47.20 L427.91 48.20 L428.15 49.20 L428.38 50.20 L428.61 51.20 L428.83 52.20 L429.04 53.20 L429.25 54.20 L429.45 55.20 L429.64 56.20 L429.83 57.20 L430.01 58.20 L430.18 59.20 L430.35 60.20 L430.52 61.20 L430.68 62.20 L430.83 63.20 L430.98 64.20 L431.12 65.20 L431.26 66.20 L431.40 67.20 L431.53 68.20 L431.66 69.20 L431.78 70.20 L431.91 71.20 L432.02 72.20 L432.14 73.20 L432.25 74.20 L432.35 75.20 L432.46 76.20 L432.56 77.20 L432.66 78.20 L432.75 79.20 L432.84 80.20 L432.93 81.20 L433.02 82.20 L433.10 83.20 L433.18 84.20 L433.26 85.20 L433.34 86.20 L433.41 87.20 L433.48 88.20 L433.55 89.20 L433.61 90.20 L433.68 91.20 L433.73 92.20 L433.79 93.20 L433.85 94.20 L433.90 95.20 L433.95 96.20 L433.99 97.20 L434.04 98.20 L434.08 99.20 L434.12 100.20 L434.15 101.20 L434.18 102.20 L434.21 103.20 L434.23 104.20 L434.25 105.20 L434.27 106.20 L434.28 107.20 L434.29 108.20 L434.30 109.20 L434.30 110.20 L434.30 111.20 L434.29 112.20 L434.29 113.20 L434.29 114.20 L434.28 115.20 L434.28 116.20 L434.28 117.20 L434.28 118.20 L434.27 119.20 L434.27 120.20 L434.27 121.20 L434.26 122.20 L434.26 123.20 L434.26 124.20 L434.26 125.20 L434.25 126.20 L434.25 127.20 L434.25 128.20 L434.24 129.20 L434.24 130.20 L434.24 131.20 L434.24 132.20 L434.23 133.20 L434.23 134.20 L434.23 135.20 L434.22 136.20 L434.22 137.20 L434.22 138.20 L434.21 139.20 L434.21 140.20 L434.21 141.20 L434.21 142.20 L434.20 143.20 L434.20 144.20 L434.20 145.20 L434.19 146.20 L434.19 147.20 L434.19 148.20 L434.19 149.20 L434.18 150.20 L434.18 151.20 L434.18 152.20 L434.17 153.20 L434.17 154.20 L434.17 155.20 L434.17 156.20 L434.16 157.20 L434.16 158.20 L434.16 159.20 L434.15 160.20 L434.15 161.20 L434.15 162.20 L434.15 163.20 L434.14 164.20 L434.14 165.20 L434.14 166.20 L434.13 167.20 L434.13 168.20 L434.13 169.20 L434.12 170.20 L434.12 171.20 L434.12 172.20 L434.12 173.20 L434.11 174.20 L434.11 175.20 L434.11 176.20 L434.10 177.20 L434.10 178.20 L434.10 179.20 L434.10 180.20 L434.09 181.20 L434.09 182.20 L434.09 183.20 L434.08 184.20 L434.08 185.20 L434.08 186.20 L434.08 187.20 L434.07 188.20 L434.07 189.20 L434.07 190.20 L434.06 191.20 L434.06 192.20 L434.06 193.20 L434.05 194.20 L434.05 195.20 L434.05 196.20 L434.05 197.20 L434.04 198.20 L434.04 199.20 L434.04 200.20 L434.03 201.20 L434.03 202.20 L434.03 203.20 L434.03 204.20 L434.02 205.20 L434.02 206.20 L434.02 207.20 L434.01 208.20 L434.01 209.20 L434.01 210.20 L434.01 211.20 L434.00 212.20 L434.00 213.20 L434.00 214.20 L433.99 215.20 L433.99 216.20 L433.99 217.20 L433.98 218.20 L433.98 219.20 L433.98 220.20 L433.98 221.20 L433.97 222.20 L433.97 223.20 L433.97 224.20 L433.96 225.20 L433.96 226.20 L433.96 227.20 L433.95 228.20 L433.95 229.20 L433.95 230.20 L433.95 231.20 L433.94 232.20 L433.94 233.20 L433.94 234.20 L433.93 235.20 L433.93 236.20 L433.93 237.20 L433.92 238.20 L433.92 239.20 L433.92 240.20 L433.92 241.20 L433.91 242.20 L433.91 243.20 L433.91 244.20 L433.90 245.20 L433.90 246.20 L433.90 247.20 L433.89 248.20 L433.89 249.20 L433.89 250.20 L433.89 251.20 L433.88 252.20 L433.88 253.20 L433.88 254.20 L433.87 255.20 L433.87 256.20 L433.87 257.20 L433.86 258.20 L433.86 259.20 L433.86 260.20 L433.86 261.20 L433.85 262.20 L433.85 263.20 L433.85 264.20 L433.84 265.20 L433.84 266.20 L433.84 267.20 L433.83 268.20 L433.83 269.20 L433.83 270.20 L433.83 271.20 L433.82 272.20 L433.82 273.20 L433.82 274.20 L433.81 275.20 L433.81 276.20 L433.81 277.20 L433.80 278.20 L433.80 279.20 L433.80 280.20 L433.80 281.20 L433.79 282.20 L433.79 283.20 L433.79 284.20 L433.78 285.20 L433.78 286.20 L433.78 287.20 L433.77 288.20 L433.77 289.20 L433.77 290.20 L433.77 291.20 L433.76 292.20 L433.76 293.20 L433.76 294.20 L433.75 295.20 L433.75 296.20 L433.75 297.20 L433.74 298.20 L433.74 299.20 L433.74 300.20 L433.74 301.20 L433.73 302.20 L433.73 303.20 L433.73 304.20 L433.72 305.20 L433.72 306.20 L433.72 307.20 L433.71 308.20 L433.71 309.20 L433.71 310.20 L433.71 311.20 L433.70 312.20 L433.70 313.20 L433.67 314.20 L433.65 315.20 L433.63 316.20 L433.61 317.20 L433.58 318.20 L433.56 319.20 L433.54 320.20 L433.52 321.20 L433.49 322.20 L433.47 323.20 L433.45 324.20 L433.43 325.20 L433.40 326.20 L433.38 327.20 L433.36 328.20 L433.34 329.20 L433.31 330.20 L433.29 331.20 L433.27 332.20 L433.25 333.20 L433.22 334.20 L433.20 335.20 L433.18 336.20 L433.16 337.20 L433.13 338.20 L433.11 339.20 L433.09 340.20 L433.07 341.20 L433.04 342.20 L433.02 343.20 L433.00 344.20 L432.98 345.20 L432.95 346.20 L432.93 347.20 L432.91 348.20 L432.89 349.20 L432.86 350.20 L432.84 351.20 L432.82 352.20 L432.80 353.20 L432.80 354.20 L432.79 355.20 L432.79 356.20 L432.79 357.20 L432.78 358.20 L432.78 359.20 L432.78 360.20 L432.77 361.20 L432.77 362.20 L432.77 363.20 L432.76 364.20 L432.76 365.20 L432.76 366.20 L432.76 367.20 L432.75 368.20 L432.75 369.20 L432.75 370.20 L432.74 371.20 L432.74 372.20 L432.74 373.20 L432.73 374.20 L432.73 375.20 L432.73 376.20 L432.72 377.20 L432.72 378.20 L432.72 379.20 L432.72 380.20 L432.71 381.20 L432.71 382.20 L432.71 383.20 L432.70 384.20 L432.68 385.20 L432.56 386.20 L432.45 387.20 L432.33 388.20 L432.22 389.20 L432.10 390.20 L431.98 391.20 L431.87 392.20 L431.75 393.20 L431.64 394.20 L431.52 395.20 L431.41 396.20 L431.29 397.20 L431.18 398.20 L431.08 399.20 L430.98 400.20 L430.88 401.20 L430.78 402.20 L430.68 403.20 L430.58 404.20 L430.48 405.20 L430.38 406.20 L430.28 407.20 L430.18 408.20 L430.08 409.20 L429.98 410.20 L429.90 411.20 L429.81 412.20 L429.73 413.20 L429.64 414.20 L429.55 415.20 L429.47 416.20 L429.38 417.20 L429.30 418.20 L429.21 419.20 L429.13 420.20 L429.04 421.20 L428.95 422.20 L428.87 423.20 L428.79 424.20 L428.72 425.20 L428.65 426.20 L428.58 427.20 L428.51 428.20 L428.44 429.20 L428.37 430.20 L428.30 431.20 L428.23 432.20 L428.16 433.20 L428.10 434.00" fill="none" stroke="#000" stroke-width="4.2" />
<path d="M340.70 396.00 L340.69 395.50 L340.66 394.50 L340.63 393.50 L340.60 392.50 L340.58 391.50 L340.55 390.50 L340.52 389.50 L340.50 388.50 L340.47 387.50 L340.44 386.50 L340.41 385.50 L340.39 384.50 L340.36 383.50 L340.33 382.50 L340.30 381.50 L340.27 380.50 L340.25 379.50 L340.22 378.50 L340.19 377.50 L340.16 376.50 L340.13 375.50 L340.10 374.50 L340.08 373.50 L340.05 372.50 L340.02 371.50 L339.99 370.50 L339.96 369.50 L339.94 368.50 L339.91 367.50 L339.88 366.50 L339.85 365.50 L339.82 364.50 L339.80 363.50 L339.77 362.50 L339.74 361.50 L339.71 360.50 L339.68 359.50 L339.65 358.50 L339.63 357.50 L339.60 356.50 L339.57 355.50 L339.54 354.50 L339.51 353.50 L339.49 352.50 L339.48 351.50 L339.46 350.50 L339.45 349.50 L339.43 348.50 L339.42 347.50 L339.40 346.50 L339.39 345.50 L339.37 344.50 L339.36 343.50 L339.34 342.50 L339.33 341.50 L339.31 340.50 L339.30 339.50 L339.28 338.50 L339.27 337.50 L339.25 336.50 L339.24 335.50 L339.22 334.50 L339.21 333.50 L339.19 332.50 L339.18 331.50 L339.16 330.50 L339.15 329.50 L339.13 328.50 L339.12 327.50 L339.10 326.50 L339.09 325.50 L339.07 324.50 L339.06 323.50 L339.04 322.50 L339.03 321.50 L339.01 320.50 L339.00 319.50 L338.98 318.50 L338.97 317.50 L338.95 316.50 L338.94 315.50 L338.92 314.50 L338.91 313.50 L338.90 312.50 L338.89 311.50 L338.88 310.50 L338.88 309.50 L338.87 308.50 L338.87 307.50 L338.86 306.50 L338.86 305.50 L338.85 304.50 L338.84 303.50 L338.84 302.50 L338.83 301.50 L338.82 300.50 L338.82 299.50 L338.81 298.50 L338.81 297.50 L338.80 296.50 L338.80 295.50 L338.79 294.50 L338.78 293.50 L338.78 292.50 L338.77 291.50 L338.76 290.50 L338.76 289.50 L338.75 288.50 L338.75 287.50 L338.74 286.50 L338.74 285.50 L338.73 284.50 L338.72 283.50 L338.72 282.50 L338.71 281.50 L338.71 280.50 L338.70 279.50 L338.69 278.50 L338.69 277.50 L338.68 276.50 L338.68 275.50 L338.67 274.50 L338.66 273.50 L338.66 272.50 L338.65 271.50 L338.64 270.50 L338.64 269.50 L338.63 268.50 L338.63 267.50 L338.62 266.50 L338.62 265.50 L338.61 264.50 L338.60 263.50 L338.60 262.50 L338.59 261.50 L338.59 260.50 L338.58 259.50 L338.57 258.50 L338.57 257.50 L338.56 256.50 L338.56 255.50 L338.55 254.50 L338.54 253.50 L338.54 252.50 L338.53 251.50 L338.53 250.50 L338.52 249.50 L338.51 248.50 L338.51 247.50 L338.50 246.50 L338.50 245.50 L338.49 244.50 L338.48 243.50 L338.48 242.50 L338.47 241.50 L338.47 240.50 L338.46 239.50 L338.45 238.50 L338.45 237.50 L338.44 236.50 L338.44 235.50 L338.43 234.50 L338.42 233.50 L338.42 232.50 L338.41 231.50 L338.41 230.50 L338.40 229.50 L338.39 228.50 L338.39 227.50 L338.38 226.50 L338.38 225.50 L338.37 224.50 L338.36 223.50 L338.36 222.50 L338.35 221.50 L338.35 220.50 L338.34 219.50 L338.33 218.50 L338.33 217.50 L338.32 216.50 L338.31 215.50 L338.31 214.50 L338.30 213.50 L338.30 212.50 L338.30 211.50 L338.30 210.50 L338.30 209.50 L338.29 208.50 L338.29 207.50 L338.29 206.50 L338.29 205.50 L338.29 204.50 L338.29 203.50 L338.29 202.50 L338.29 201.50 L338.29 200.50 L338.28 199.50 L338.28 198.50 L338.28 197.50 L338.28 196.50 L338.28 195.50 L338.28 194.50 L338.28 193.50 L338.28 192.50 L338.27 191.50 L338.27 190.50 L338.27 189.50 L338.27 188.50 L338.27 187.50 L338.27 186.50 L338.27 185.50 L338.27 184.50 L338.27 183.50 L338.26 182.50 L338.26 181.50 L338.26 180.50 L338.26 179.50 L338.26 178.50 L338.26 177.50 L338.26 176.50 L338.26 175.50 L338.25 174.50 L338.25 173.50 L338.25 172.50 L338.25 171.50 L338.25 170.50 L338.25 169.50 L338.25 168.50 L338.25 167.50 L338.25 166.50 L338.24 165.50 L338.24 164.50 L338.24 163.50 L338.24 162.50 L338.24 161.50 L338.24 160.50 L338.24 159.50 L338.24 158.50 L338.23 157.50 L338.23 156.50 L338.23 155.50 L338.23 154.50 L338.23 153.50 L338.23 152.50 L338.23 151.50 L338.23 150.50 L338.23 149.50 L338.22 148.50 L338.22 147.50 L338.22 146.50 L338.22 145.50 L338.22 144.50 L338.22 143.50 L338.22 142.50 L338.22 141.50 L338.21 140.50 L338.21 139.50 L338.21 138.50 L338.21 137.50 L338.21 136.50 L338.21 135.50 L338.21 134.50 L338.21 133.50 L338.21 132.50 L338.20 131.50 L338.20 130.50 L338.20 129.50 L338.20 128.50 L338.20 127.50 L338.20 126.50 L338.20 125.50 L338.20 124.50 L338.20 123.50 L338.20 122.50 L338.20 121.50 L338.21 120.50 L338.21 119.50 L338.22 118.50 L338.22 117.50 L338.23 116.50 L338.24 115.50 L338.25 114.50 L338.27 113.50 L338.28 112.50 L338.30 111.50 L338.32 110.50 L338.35 109.50 L338.37 108.50 L338.40 107.50 L338.43 106.50 L338.47 105.50 L338.51 104.50 L338.55 103.50 L338.59 102.50 L338.64 101.50 L338.69 100.50 L338.75 99.50 L338.81 98.50 L338.87 97.50 L338.94 96.50 L339.01 95.50 L339.09 94.50 L339.17 93.50 L339.25 92.50 L339.34 91.50 L339.43 90.50 L339.53 89.50 L339.63 88.50 L339.74 87.50 L339.86 86.50 L339.97 85.50 L340.10 84.50 L340.23 83.50 L340.36 82.50 L340.50 81.50 L340.65 80.50 L340.80 79.50 L340.95 78.50 L341.12 77.50 L341.28 76.50 L341.46 75.50 L341.64 74.50 L341.83 73.50 L342.02 72.50 L342.22 71.50 L342.43 70.50 L342.64 69.50 L342.86 68.50 L343.09 67.50 L343.32 66.50 L343.57 65.50 L343.82 64.50 L344.07 63.50 L344.34 62.50 L344.61 61.50 L344.89 60.50 L345.18 59.50 L345.47 58.50 L345.77 57.50 L346.09 56.50 L346.41 55.50 L346.74 54.50 L347.08 53.50 L347.42 52.50 L347.78 51.50 L348.15 50.50 L348.52 49.50 L348.91 48.50 L349.30 47.50 L349.70 46.50 L350.12 45.50 L350.55 44.50 L350.98 43.50 L351.43 42.50 L351.89 41.50 L352.35 40.50 L352.83 39.50 L353.33 38.50 L353.83 37.50 L354.35 36.50 L354.87 35.50 L355.41 34.50 L355.97 33.50 L356.53 32.50 L357.11 31.50 L357.71 30.50 L358.32 29.50 L358.94 28.50 L359.57 27.50 L360.22 26.50 L360.89 25.50 L361.57 24.50 L362.27 23.50 L362.98 22.50 L363.71 21.50 L364.45 20.50 L365.22 19.50 L366.00 18.50 L366.79 17.50 L367.61 16.50 L368.44 15.50 L369.30 14.50 L370.17 13.50 L371.06 12.50 L371.97 11.50 L372.90 10.50 L373.85 9.50 L374.83 8.50 L375.82 7.50 L376.84 6.50 L377.88 5.50 L378.94 4.50 Q384.80 -0.95 390.66 4.50 L391.72 5.50 L392.76 6.50 L393.78 7.50 L394.77 8.50 L395.75 9.50 L396.70 10.50 L397.63 11.50 L398.54 12.50 L399.43 13.50 L400.30 14.50 L401.16 15.50 L401.99 16.50 L402.81 17.50 L403.60 18.50 L404.38 19.50 L405.15 20.50 L405.89 21.50 L406.62 22.50 L407.33 23.50 L408.03 24.50 L408.71 25.50 L409.38 26.50 L410.03 27.50 L410.66 28.50 L411.28 29.50 L411.89 30.50 L412.49 31.50 L413.07 32.50 L413.63 33.50 L414.19 34.50 L414.73 35.50 L415.25 36.50 L415.77 37.50 L416.27 38.50 L416.77 39.50 L417.25 40.50 L417.71 41.50 L418.17 42.50 L418.62 43.50 L419.05 44.50 L419.48 45.50 L419.90 46.50 L420.30 47.50 L420.69 48.50 L421.08 49.50 L421.45 50.50 L421.82 51.50 L422.18 52.50 L422.52 53.50 L422.86 54.50 L423.19 55.50 L423.51 56.50 L423.83 57.50 L424.13 58.50 L424.42 59.50 L424.71 60.50 L424.99 61.50 L425.26 62.50 L425.53 63.50 L425.78 64.50 L426.03 65.50 L426.28 66.50 L426.51 67.50 L426.74 68.50 L426.96 69.50 L427.17 70.50 L427.38 71.50 L427.58 72.50 L427.77 73.50 L427.96 74.50 L428.14 75.50 L428.32 76.50 L428.48 77.50 L428.65 78.50 L428.80 79.50 L428.95 80.50 L429.10 81.50 L429.24 82.50 L429.37 83.50 L429.50 84.50 L429.63 85.50 L429.74 86.50 L429.86 87.50 L429.97 88.50 L430.07 89.50 L430.17 90.50 L430.26 91.50 L430.35 92.50 L430.43 93.50 L430.51 94.50 L430.59 95.50 L430.66 96.50 L430.73 97.50 L430.79 98.50 L430.85 99.50 L430.91 100.50 L430.96 101.50 L431.01 102.50 L431.05 103.50 L431.09 104.50 L431.13 105.50 L431.17 106.50 L431.20 107.50 L431.23 108.50 L431.25 109.50 L431.28 110.50 L431.30 111.50 L431.32 112.50 L431.33 113.50 L431.35 114.50 L431.36 115.50 L431.37 116.50 L431.38 117.50 L431.38 118.50 L431.39 119.50 L431.39 120.50 L431.40 121.50 L431.40 122.50 L431.40 123.50 L431.40 124.50 L431.40 125.50 L431.40 126.50 L431.40 127.50 L431.40 128.50 L431.40 129.50 L431.40 130.50 L431.40 131.50 L431.39 132.50 L431.39 133.50 L431.39 134.50 L431.39 135.50 L431.39 136.50 L431.39 137.50 L431.39 138.50 L431.39 139.50 L431.39 140.50 L431.38 141.50 L431.38 142.50 L431.38 143.50 L431.38 144.50 L431.38 145.50 L431.38 146.50 L431.38 147.50 L431.38 148.50 L431.37 149.50 L431.37 150.50 L431.37 151.50 L431.37 152.50 L431.37 153.50 L431.37 154.50 L431.37 155.50 L431.37 156.50 L431.37 157.50 L431.36 158.50 L431.36 159.50 L431.36 160.50 L431.36 161.50 L431.36 162.50 L431.36 163.50 L431.36 164.50 L431.36 165.50 L431.35 166.50 L431.35 167.50 L431.35 168.50 L431.35 169.50 L431.35 170.50 L431.35 171.50 L431.35 172.50 L431.35 173.50 L431.35 174.50 L431.34 175.50 L431.34 176.50 L431.34 177.50 L431.34 178.50 L431.34 179.50 L431.34 180.50 L431.34 181.50 L431.34 182.50 L431.33 183.50 L431.33 184.50 L431.33 185.50 L431.33 186.50 L431.33 187.50 L431.33 188.50 L431.33 189.50 L431.33 190.50 L431.33 191.50 L431.32 192.50 L431.32 193.50 L431.32 194.50 L431.32 195.50 L431.32 196.50 L431.32 197.50 L431.32 198.50 L431.32 199.50 L431.31 200.50 L431.31 201.50 L431.31 202.50 L431.31 203.50 L431.31 204.50 L431.31 205.50 L431.31 206.50 L431.31 207.50 L431.31 208.50 L431.30 209.50 L431.30 210.50 L431.30 211.50 L431.30 212.50 L431.30 213.50 L431.29 214.50 L431.29 215.50 L431.28 216.50 L431.27 217.50 L431.27 218.50 L431.26 219.50 L431.25 220.50 L431.25 221.50 L431.24 222.50 L431.24 223.50 L431.23 224.50 L431.23 225.50 L431.22 226.50 L431.21 227.50 L431.21 228.50 L431.20 229.50 L431.19 230.50 L431.19 231.50 L431.18 232.50 L431.18 233.50 L431.17 234.50 L431.17 235.50 L431.16 236.50 L431.15 237.50 L431.15 238.50 L431.14 239.50 L431.13 240.50 L431.13 241.50 L431.12 242.50 L431.12 243.50 L431.11 244.50 L431.11 245.50 L431.10 246.50 L431.09 247.50 L431.09 248.50 L431.08 249.50 L431.07 250.50 L431.07 251.50 L431.06 252.50 L431.06 253.50 L431.05 254.50 L431.05 255.50 L431.04 256.50 L431.03 257.50 L431.03 258.50 L431.02 259.50 L431.01 260.50 L431.01 261.50 L431.00 262.50 L431.00 263.50 L430.99 264.50 L430.99 265.50 L430.98 266.50 L430.97 267.50 L430.97 268.50 L430.96 269.50 L430.96 270.50 L430.95 271.50 L430.94 272.50 L430.94 273.50 L430.93 274.50 L430.93 275.50 L430.92 276.50 L430.91 277.50 L430.91 278.50 L430.90 279.50 L430.89 280.50 L430.89 281.50 L430.88 282.50 L430.88 283.50 L430.87 284.50 L430.87 285.50 L430.86 286.50 L430.85 287.50 L430.85 288.50 L430.84 289.50 L430.84 290.50 L430.83 291.50 L430.82 292.50 L430.82 293.50 L430.81 294.50 L430.81 295.50 L430.80 296.50 L430.79 297.50 L430.79 298.50 L430.78 299.50 L430.78 300.50 L430.77 301.50 L430.76 302.50 L430.76 303.50 L430.75 304.50 L430.75 305.50 L430.74 306.50 L430.73 307.50 L430.73 308.50 L430.72 309.50 L430.72 310.50 L430.71 311.50 L430.70 312.50 L430.69 313.50 L430.68 314.50 L430.66 315.50 L430.65 316.50 L430.63 317.50 L430.62 318.50 L430.60 319.50 L430.59 320.50 L430.57 321.50 L430.56 322.50 L430.54 323.50 L430.53 324.50 L430.51 325.50 L430.50 326.50 L430.48 327.50 L430.47 328.50 L430.45 329.50 L430.44 330.50 L430.42 331.50 L430.41 332.50 L430.39 333.50 L430.38 334.50 L430.36 335.50 L430.35 336.50 L430.33 337.50 L430.32 338.50 L430.30 339.50 L430.29 340.50 L430.27 341.50 L430.26 342.50 L430.24 343.50 L430.23 344.50 L430.21 345.50 L430.20 346.50 L430.18 347.50 L430.17 348.50 L430.15 349.50 L430.14 350.50 L430.12 351.50 L430.11 352.50 L430.09 353.50 L430.06 354.50 L430.03 355.50 L430.00 356.50 L429.97 357.50 L429.95 358.50 L429.92 359.50 L429.89 360.50 L429.86 361.50 L429.83 362.50 L429.80 363.50 L429.78 364.50 L429.75 365.50 L429.72 366.50 L429.69 367.50 L429.66 368.50 L429.64 369.50 L429.61 370.50 L429.58 371.50 L429.55 372.50 L429.52 373.50 L429.50 374.50 L429.47 375.50 L429.44 376.50 L429.41 377.50 L429.38 378.50 L429.35 379.50 L429.33 380.50 L429.30 381.50 L429.27 382.50 L429.24 383.50 L429.21 384.50 L429.19 385.50 L429.16 386.50 L429.13 387.50 L429.10 388.50 L429.08 389.50 L429.05 390.50 L429.02 391.50 L429.00 392.50 L428.97 393.50 L428.94 394.50 L428.91 395.50 L428.90 396.00" fill="none" stroke="#000" stroke-width="1.5" />
<path d="M428.90 396.00 C428.85 396.67 429.03 398.58 428.60 400.00 C428.17 401.42 427.35 403.23 426.30 404.50 C425.25 405.77 423.65 406.90 422.30 407.60 C420.95 408.30 418.88 408.52 418.20 408.70" fill="none" stroke="#000" stroke-width="1.4" />
<path d="M427.80 403.00 C427.67 403.47 427.67 404.70 427.00 405.80 C426.33 406.90 425.27 408.67 423.80 409.60 C422.33 410.53 419.13 411.10 418.20 411.40" fill="none" stroke="#000" stroke-width="1.4" />
<line x1="418.20" y1="408.50" x2="418.20" y2="424.00" stroke="#000" stroke-width="1.1"/>
<line x1="407.40" y1="412.20" x2="407.40" y2="424.00" stroke="#000" stroke-width="1.1"/>
<line x1="418.00" y1="416.60" x2="407.60" y2="413.20" stroke="#000" stroke-width="1.5"/>
<line x1="418.00" y1="420.70" x2="407.60" y2="417.30" stroke="#000" stroke-width="1.5"/>
<line x1="418.00" y1="424.80" x2="407.60" y2="421.40" stroke="#000" stroke-width="1.5"/>
<line x1="418.20" y1="408.50" x2="418.20" y2="424.00" stroke="#000" stroke-width="1.4"/>
<line x1="407.40" y1="412.20" x2="407.40" y2="424.00" stroke="#000" stroke-width="1.4"/>
<path d="M340.70 396.00 C340.75 396.67 340.57 398.58 341.00 400.00 C341.43 401.42 342.25 403.23 343.30 404.50 C344.35 405.77 345.95 406.90 347.30 407.60 C348.65 408.30 350.72 408.52 351.40 408.70" fill="none" stroke="#000" stroke-width="1.4" />
<path d="M341.80 403.00 C341.93 403.47 341.93 404.70 342.60 405.80 C343.27 406.90 344.33 408.67 345.80 409.60 C347.27 410.53 350.47 411.10 351.40 411.40" fill="none" stroke="#000" stroke-width="1.4" />
<line x1="351.40" y1="408.50" x2="351.40" y2="424.00" stroke="#000" stroke-width="1.1"/>
<line x1="362.20" y1="412.20" x2="362.20" y2="424.00" stroke="#000" stroke-width="1.1"/>
<line x1="351.60" y1="416.60" x2="362.00" y2="413.20" stroke="#000" stroke-width="1.5"/>
<line x1="351.60" y1="420.70" x2="362.00" y2="417.30" stroke="#000" stroke-width="1.5"/>
<line x1="351.60" y1="424.80" x2="362.00" y2="421.40" stroke="#000" stroke-width="1.5"/>
<line x1="351.40" y1="408.50" x2="351.40" y2="424.00" stroke="#000" stroke-width="1.4"/>
<line x1="362.20" y1="412.20" x2="362.20" y2="424.00" stroke="#000" stroke-width="1.4"/>
<line x1="351.40" y1="411.80" x2="418.20" y2="411.80" stroke="#000" stroke-width="1.4"/>
<line x1="362.20" y1="419.80" x2="407.40" y2="419.80" stroke="#000" stroke-width="1.8"/>
<path d="M347.30 349.60 C347.22 341.33 346.97 316.60 346.80 300.00 C346.63 283.40 346.38 273.33 346.30 250.00 C346.22 226.67 346.27 180.00 346.30 160.00 C346.33 140.00 346.35 139.00 346.50 130.00 C346.65 121.00 346.88 113.00 347.20 106.00 C347.52 99.00 347.87 93.00 348.40 88.00 C348.93 83.00 349.63 79.67 350.40 76.00 C351.17 72.33 352.20 68.67 353.00 66.00 C353.80 63.33 354.45 62.00 355.20 60.00 C355.95 58.00 356.67 55.90 357.50 54.00 C358.33 52.10 359.15 49.90 360.20 48.60 C361.25 47.30 362.20 46.92 363.80 46.20 C365.40 45.48 367.63 44.85 369.80 44.30 C371.97 43.75 374.30 43.22 376.80 42.90 C379.30 42.58 382.13 42.40 384.80 42.40 C387.47 42.40 390.30 42.58 392.80 42.90 C395.30 43.22 397.63 43.75 399.80 44.30 C401.97 44.85 404.20 45.48 405.80 46.20 C407.40 46.92 408.35 47.30 409.40 48.60 C410.45 49.90 411.27 52.10 412.10 54.00 C412.93 55.90 413.65 58.00 414.40 60.00 C415.15 62.00 415.80 63.33 416.60 66.00 C417.40 68.67 418.43 72.33 419.20 76.00 C419.97 79.67 420.67 83.00 421.20 88.00 C421.73 93.00 422.08 99.00 422.40 106.00 C422.72 113.00 422.95 121.00 423.10 130.00 C423.25 139.00 423.27 140.00 423.30 160.00 C423.33 180.00 423.38 226.67 423.30 250.00 C423.22 273.33 422.97 283.40 422.80 300.00 C422.63 316.60 422.38 341.33 422.30 349.60" fill="none" stroke="#000" stroke-width="1.6" />
<line x1="347.40" y1="349.60" x2="422.40" y2="349.60" stroke="#000" stroke-width="1.6"/>
<line x1="350.20" y1="88.50" x2="420.40" y2="88.50" stroke="#000" stroke-width="1.6"/>
<line x1="352.60" y1="88.50" x2="352.60" y2="135.40" stroke="#000" stroke-width="1.6"/>
<line x1="361.10" y1="88.50" x2="361.10" y2="171.20" stroke="#000" stroke-width="1.6"/>
<path d="M361.4 106.6 C363.2 106.0 366.6 106.6 366.4 110.2 C366.2 113.4 363.6 114.0 361.4 113.4" fill="none" stroke="#000" stroke-width="1.8" />
<rect x="371.30" y="90.60" width="27.30" height="32.50" rx="2.2" fill="#C98A42" stroke="#000" stroke-width="1.3"/>
<rect x="373.10" y="92.80" width="10.85" height="4.80" rx="2.4" fill="#C98A42" stroke="#000" stroke-width="1.0"/>
<rect x="385.95" y="92.80" width="10.85" height="4.80" rx="2.4" fill="#C98A42" stroke="#000" stroke-width="1.0"/>
<line x1="372.10" y1="100.20" x2="397.80" y2="100.20" stroke="#000" stroke-width="1.1"/>
<path d="M393.60 103.10 L396.00 100.40 L397.40 103.10Z" fill="#000" stroke="#000" stroke-width="0.9" />
<path d="M346.30 135.40 L362.60 135.40 L366.90 142.20 L370.60 137.30 L370.60 135.40 L404.60 135.40 L404.60 211.00" fill="none" stroke="#000" stroke-width="1.6" />
<rect x="350.00" y="146.00" width="10.60" height="25.00" rx="0" fill="none" stroke="#000" stroke-width="1.6"/>
<line x1="350.00" y1="156.20" x2="360.60" y2="156.20" stroke="#000" stroke-width="1.1"/>
<line x1="350.00" y1="159.60" x2="360.60" y2="159.60" stroke="#000" stroke-width="1.1"/>
<line x1="350.00" y1="162.90" x2="360.60" y2="162.90" stroke="#000" stroke-width="1.1"/>
<line x1="350.00" y1="166.20" x2="360.60" y2="166.20" stroke="#000" stroke-width="1.1"/>
<path d="M350.60 147.00 L360.00 152.50" fill="none" stroke="#000" stroke-width="1.0" />
<path d="M351.00 150.00 L359.50 155.00" fill="none" stroke="#000" stroke-width="1.0" />
<rect x="355.50" y="167.20" width="1.70" height="2.80" rx="0" fill="#000" stroke="#000" stroke-width="0.8"/>
<circle cx="367.80" cy="152.20" r="2.90" fill="none" stroke="#000" stroke-width="1.6"/>
<line x1="367.80" y1="152.20" x2="367.80" y2="156.60" stroke="#000" stroke-width="1.6"/>
<ellipse cx="378.40" cy="152.40" rx="2.20" ry="3.20" fill="none" stroke="#000" stroke-width="1.6"/>
<ellipse cx="387.00" cy="152.40" rx="2.20" ry="3.20" fill="none" stroke="#000" stroke-width="1.6"/>
<line x1="361.10" y1="156.60" x2="404.60" y2="156.60" stroke="#000" stroke-width="1.6"/>
<line x1="361.10" y1="164.80" x2="383.20" y2="164.80" stroke="#000" stroke-width="1.6"/>
<ellipse cx="383.80" cy="160.40" rx="2.50" ry="3.20" fill="none" stroke="#000" stroke-width="1.6"/>
<line x1="385.30" y1="163.60" x2="385.30" y2="177.60" stroke="#000" stroke-width="1.6"/>
<rect x="387.50" y="163.40" width="5.90" height="5.00" rx="1.8" fill="none" stroke="#000" stroke-width="1.6"/>
<rect x="392.80" y="136.60" width="11.20" height="14.40" rx="1.8" fill="none" stroke="#000" stroke-width="1.6"/>
<circle cx="398.60" cy="144.00" r="0.50" fill="#000" stroke="#000" stroke-width="1.0"/>
<path d="M404.60 175.20 L409.50 168.30 L412.50 172.00 L412.50 175.50 L424.00 175.50" fill="none" stroke="#000" stroke-width="1.6" />
<line x1="366.90" y1="178.30" x2="398.60" y2="178.30" stroke="#000" stroke-width="1.6"/>
<line x1="366.90" y1="178.30" x2="366.90" y2="218.50" stroke="#000" stroke-width="1.6"/>
<line x1="376.30" y1="177.00" x2="376.30" y2="217.00" stroke="#000" stroke-width="1.6"/>
<path d="M346.30 179.50 L353.00 179.50 L356.30 184.00 L356.30 210.00 L352.60 214.50 L346.30 214.50" fill="none" stroke="#000" stroke-width="1.6" />
<rect x="350.20" y="198.30" width="4.60" height="8.70" rx="0" fill="none" stroke="#000" stroke-width="1.2"/>
<line x1="350.20" y1="202.60" x2="354.80" y2="202.60" stroke="#000" stroke-width="1.0"/>
<path d="M404.6 186.4 L395.6 186.4 C395.8 180.5 399.5 175.8 404.6 175.2" fill="none" stroke="#000" stroke-width="1.7" />
<line x1="399.00" y1="178.60" x2="404.60" y2="186.40" stroke="#000" stroke-width="1.2"/>
<line x1="396.40" y1="183.40" x2="404.60" y2="183.40" stroke="#000" stroke-width="1.2"/>
<line x1="415.00" y1="181.90" x2="424.00" y2="181.90" stroke="#000" stroke-width="1.5"/>
<line x1="419.60" y1="186.20" x2="424.00" y2="186.20" stroke="#000" stroke-width="1.9"/>
<line x1="415.00" y1="191.20" x2="424.00" y2="191.20" stroke="#000" stroke-width="1.5"/>
<rect x="386.20" y="200.80" width="6.20" height="7.40" rx="0" fill="none" stroke="#000" stroke-width="1.6"/>
<circle cx="389.30" cy="212.00" r="2.60" fill="none" stroke="#000" stroke-width="1.6"/>
<rect x="396.80" y="201.40" width="3.60" height="6.80" rx="1" fill="none" stroke="#000" stroke-width="1.6"/>
<rect x="386.60" y="209.80" width="5.40" height="5.80" rx="0" fill="none" stroke="#000" stroke-width="1.0"/>
<path d="M346.30 218.00 L348.20 219.50 L346.30 221.00" fill="none" stroke="#000" stroke-width="1.2" />
<path d="M346.30 225.20 L356.50 225.20 L356.50 218.20 L359.60 218.20 L362.20 221.00 L365.60 219.20 L370.30 219.00" fill="none" stroke="#000" stroke-width="1.6" />
<path d="M398.90 219.00 L403.90 218.60 L406.20 220.40 L409.80 221.40 L411.40 224.60 L414.50 226.50 L418.30 228.00" fill="none" stroke="#000" stroke-width="1.6" />
<path d="M404.60 211.00 C404.77 211.50 405.72 212.73 405.60 214.00 C405.48 215.27 404.18 217.83 403.90 218.60" fill="none" stroke="#000" stroke-width="1.6" />
<path d="M370.30 219.00 L372.80 216.80 L397.00 216.80 L398.90 219.00 L396.00 222.60 L394.50 223.30 L376.70 223.30 L373.00 221.80Z" fill="none" stroke="#000" stroke-width="1.6" />
<line x1="373.50" y1="220.80" x2="396.00" y2="220.80" stroke="#000" stroke-width="1.1"/>
<line x1="356.30" y1="225.00" x2="356.30" y2="273.00" stroke="#000" stroke-width="1.6"/>
<path d="M356.30 273.00 C356.42 273.37 356.38 274.77 357.00 275.20 C357.62 275.63 358.67 275.53 360.00 275.60 C361.33 275.67 364.17 275.60 365.00 275.60" fill="none" stroke="#000" stroke-width="1.6" />
<ellipse cx="381.90" cy="249.40" rx="10.00" ry="15.00" fill="none" stroke="#000" stroke-width="1.5"/>
<rect x="373.00" y="227.00" width="7.60" height="6.80" rx="2.6" fill="none" stroke="#000" stroke-width="1.6"/>
<rect x="383.30" y="227.00" width="7.60" height="6.80" rx="2.6" fill="none" stroke="#000" stroke-width="1.6"/>
<rect x="364.90" y="235.90" width="7.60" height="6.80" rx="2.6" fill="none" stroke="#000" stroke-width="1.6"/>
<rect x="364.40" y="246.60" width="7.60" height="6.80" rx="2.6" fill="none" stroke="#000" stroke-width="1.6"/>
<rect x="364.90" y="257.30" width="7.60" height="6.80" rx="2.6" fill="none" stroke="#000" stroke-width="1.6"/>
<rect x="390.80" y="235.90" width="7.60" height="6.80" rx="2.6" fill="none" stroke="#000" stroke-width="1.6"/>
<rect x="392.40" y="246.60" width="7.60" height="6.80" rx="2.6" fill="none" stroke="#000" stroke-width="1.6"/>
<rect x="391.60" y="257.30" width="7.60" height="6.80" rx="2.6" fill="none" stroke="#000" stroke-width="1.6"/>
<rect x="373.00" y="265.60" width="7.60" height="6.80" rx="2.6" fill="none" stroke="#000" stroke-width="1.6"/>
<rect x="383.30" y="265.60" width="7.60" height="6.80" rx="2.6" fill="none" stroke="#000" stroke-width="1.6"/>
<path d="M409.6 266.2 L409.6 240.0 C409.6 236.5 412.0 234.5 413.6 233.0 C415.2 231.0 417.2 229.5 418.3 228.0 L418.3 266.2 Z" fill="none" stroke="#000" stroke-width="1.6" />
<line x1="409.60" y1="243.50" x2="418.30" y2="243.50" stroke="#000" stroke-width="1.2"/>
<line x1="409.60" y1="246.50" x2="418.30" y2="246.50" stroke="#000" stroke-width="1.2"/>
<line x1="409.60" y1="249.50" x2="418.30" y2="249.50" stroke="#000" stroke-width="1.2"/>
<line x1="409.60" y1="252.50" x2="418.30" y2="252.50" stroke="#000" stroke-width="1.2"/>
<line x1="409.60" y1="255.50" x2="418.30" y2="255.50" stroke="#000" stroke-width="1.2"/>
<line x1="409.60" y1="258.50" x2="418.30" y2="258.50" stroke="#000" stroke-width="1.2"/>
<path d="M413.90 265.00 L413.90 260.80" fill="none" stroke="#000" stroke-width="1.2" />
<path d="M412.60 262.60 L413.90 260.40 L415.20 262.60Z" fill="#000" stroke="#000" stroke-width="1.0" />
<line x1="418.30" y1="228.00" x2="418.30" y2="281.50" stroke="#000" stroke-width="1.6"/>
<path d="M365.0 275.6 L389.2 275.6 L391.6 278.3 L391.6 286.6 L389.2 289.2 L365.0 289.2 Z" fill="none" stroke="#000" stroke-width="1.6" />
<line x1="378.10" y1="275.60" x2="378.10" y2="289.20" stroke="#000" stroke-width="1.6"/>
<line x1="346.90" y1="288.30" x2="365.00" y2="288.30" stroke="#000" stroke-width="1.6"/>
<rect x="352.60" y="289.40" width="11.80" height="20.60" rx="0" fill="none" stroke="#000" stroke-width="1.6"/>
<line x1="352.60" y1="300.00" x2="364.40" y2="300.00" stroke="#000" stroke-width="1.4"/>
<rect x="372.00" y="297.80" width="10.00" height="19.20" rx="4.5" fill="none" stroke="#000" stroke-width="1.6"/>
<rect x="410.60" y="281.00" width="12.40" height="7.40" rx="0" fill="none" stroke="#000" stroke-width="1.6"/>
<rect x="407.40" y="288.60" width="15.20" height="43.40" rx="0" fill="none" stroke="#000" stroke-width="1.6"/>
<path d="M352.5 309.0 L352.5 319.0 C354 328 362 335.2 370.5 335.2 L384.4 335.2 L384.4 324.0 L373.8 324.0 C368 323 364.4 320 364.4 316.5 L364.4 309.0" fill="none" stroke="#000" stroke-width="1.6" />
<line x1="373.80" y1="324.00" x2="373.80" y2="335.20" stroke="#000" stroke-width="1.6"/>
<line x1="366.20" y1="320.30" x2="357.60" y2="326.60" stroke="#000" stroke-width="1.6"/>
<rect x="376.50" y="380.00" width="16.30" height="15.20" rx="0" fill="none" stroke="#000" stroke-width="1.6"/>
<rect x="362.40" y="398.20" width="45.00" height="11.20" rx="0" fill="none" stroke="#000" stroke-width="1.6"/>
<line x1="373.60" y1="398.20" x2="373.60" y2="409.40" stroke="#000" stroke-width="1.6"/>
<line x1="384.50" y1="398.20" x2="384.50" y2="409.40" stroke="#000" stroke-width="1.6"/>
<line x1="395.50" y1="398.20" x2="395.50" y2="409.40" stroke="#000" stroke-width="1.6"/>
<path d="M512.10 434.00 L512.04 433.20 L511.97 432.20 L511.90 431.20 L511.83 430.20 L511.76 429.20 L511.69 428.20 L511.62 427.20 L511.55 426.20 L511.48 425.20 L511.41 424.20 L511.33 423.20 L511.25 422.20 L511.16 421.20 L511.07 420.20 L510.99 419.20 L510.90 418.20 L510.82 417.20 L510.73 416.20 L510.65 415.20 L510.56 414.20 L510.47 413.20 L510.39 412.20 L510.30 411.20 L510.22 410.20 L510.12 409.20 L510.02 408.20 L509.92 407.20 L509.82 406.20 L509.72 405.20 L509.62 404.20 L509.52 403.20 L509.42 402.20 L509.32 401.20 L509.22 400.20 L509.12 399.20 L509.02 398.20 L508.91 397.20 L508.79 396.20 L508.68 395.20 L508.56 394.20 L508.45 393.20 L508.33 392.20 L508.22 391.20 L508.10 390.20 L507.98 389.20 L507.87 388.20 L507.75 387.20 L507.64 386.20 L507.52 385.20 L507.50 384.20 L507.49 383.20 L507.49 382.20 L507.49 381.20 L507.48 380.20 L507.48 379.20 L507.48 378.20 L507.48 377.20 L507.47 376.20 L507.47 375.20 L507.47 374.20 L507.46 373.20 L507.46 372.20 L507.46 371.20 L507.45 370.20 L507.45 369.20 L507.45 368.20 L507.44 367.20 L507.44 366.20 L507.44 365.20 L507.44 364.20 L507.43 363.20 L507.43 362.20 L507.43 361.20 L507.42 360.20 L507.42 359.20 L507.42 358.20 L507.41 357.20 L507.41 356.20 L507.41 355.20 L507.40 354.20 L507.40 353.20 L507.38 352.20 L507.36 351.20 L507.34 350.20 L507.31 349.20 L507.29 348.20 L507.27 347.20 L507.25 346.20 L507.22 345.20 L507.20 344.20 L507.18 343.20 L507.16 342.20 L507.13 341.20 L507.11 340.20 L507.09 339.20 L507.07 338.20 L507.04 337.20 L507.02 336.20 L507.00 335.20 L506.98 334.20 L506.95 333.20 L506.93 332.20 L506.91 331.20 L506.89 330.20 L506.86 329.20 L506.84 328.20 L506.82 327.20 L506.80 326.20 L506.77 325.20 L506.75 324.20 L506.73 323.20 L506.71 322.20 L506.68 321.20 L506.66 320.20 L506.64 319.20 L506.62 318.20 L506.59 317.20 L506.57 316.20 L506.55 315.20 L506.53 314.20 L506.50 313.20 L506.50 312.20 L506.49 311.20 L506.49 310.20 L506.49 309.20 L506.49 308.20 L506.48 307.20 L506.48 306.20 L506.48 305.20 L506.47 304.20 L506.47 303.20 L506.47 302.20 L506.46 301.20 L506.46 300.20 L506.46 299.20 L506.46 298.20 L506.45 297.20 L506.45 296.20 L506.45 295.20 L506.44 294.20 L506.44 293.20 L506.44 292.20 L506.43 291.20 L506.43 290.20 L506.43 289.20 L506.43 288.20 L506.42 287.20 L506.42 286.20 L506.42 285.20 L506.41 284.20 L506.41 283.20 L506.41 282.20 L506.40 281.20 L506.40 280.20 L506.40 279.20 L506.40 278.20 L506.39 277.20 L506.39 276.20 L506.39 275.20 L506.38 274.20 L506.38 273.20 L506.38 272.20 L506.37 271.20 L506.37 270.20 L506.37 269.20 L506.37 268.20 L506.36 267.20 L506.36 266.20 L506.36 265.20 L506.35 264.20 L506.35 263.20 L506.35 262.20 L506.34 261.20 L506.34 260.20 L506.34 259.20 L506.34 258.20 L506.33 257.20 L506.33 256.20 L506.33 255.20 L506.32 254.20 L506.32 253.20 L506.32 252.20 L506.31 251.20 L506.31 250.20 L506.31 249.20 L506.31 248.20 L506.30 247.20 L506.30 246.20 L506.30 245.20 L506.29 244.20 L506.29 243.20 L506.29 242.20 L506.28 241.20 L506.28 240.20 L506.28 239.20 L506.28 238.20 L506.27 237.20 L506.27 236.20 L506.27 235.20 L506.26 234.20 L506.26 233.20 L506.26 232.20 L506.25 231.20 L506.25 230.20 L506.25 229.20 L506.25 228.20 L506.24 227.20 L506.24 226.20 L506.24 225.20 L506.23 224.20 L506.23 223.20 L506.23 222.20 L506.22 221.20 L506.22 220.20 L506.22 219.20 L506.22 218.20 L506.21 217.20 L506.21 216.20 L506.21 215.20 L506.20 214.20 L506.20 213.20 L506.20 212.20 L506.19 211.20 L506.19 210.20 L506.19 209.20 L506.19 208.20 L506.18 207.20 L506.18 206.20 L506.18 205.20 L506.17 204.20 L506.17 203.20 L506.17 202.20 L506.17 201.20 L506.16 200.20 L506.16 199.20 L506.16 198.20 L506.15 197.20 L506.15 196.20 L506.15 195.20 L506.15 194.20 L506.14 193.20 L506.14 192.20 L506.14 191.20 L506.13 190.20 L506.13 189.20 L506.13 188.20 L506.12 187.20 L506.12 186.20 L506.12 185.20 L506.12 184.20 L506.11 183.20 L506.11 182.20 L506.11 181.20 L506.10 180.20 L506.10 179.20 L506.10 178.20 L506.10 177.20 L506.09 176.20 L506.09 175.20 L506.09 174.20 L506.08 173.20 L506.08 172.20 L506.08 171.20 L506.08 170.20 L506.07 169.20 L506.07 168.20 L506.07 167.20 L506.06 166.20 L506.06 165.20 L506.06 164.20 L506.05 163.20 L506.05 162.20 L506.05 161.20 L506.05 160.20 L506.04 159.20 L506.04 158.20 L506.04 157.20 L506.03 156.20 L506.03 155.20 L506.03 154.20 L506.03 153.20 L506.02 152.20 L506.02 151.20 L506.02 150.20 L506.01 149.20 L506.01 148.20 L506.01 147.20 L506.01 146.20 L506.00 145.20 L506.00 144.20 L506.00 143.20 L505.99 142.20 L505.99 141.20 L505.99 140.20 L505.99 139.20 L505.98 138.20 L505.98 137.20 L505.98 136.20 L505.97 135.20 L505.97 134.20 L505.97 133.20 L505.96 132.20 L505.96 131.20 L505.96 130.20 L505.96 129.20 L505.95 128.20 L505.95 127.20 L505.95 126.20 L505.94 125.20 L505.94 124.20 L505.94 123.20 L505.94 122.20 L505.93 121.20 L505.93 120.20 L505.93 119.20 L505.92 118.20 L505.92 117.20 L505.92 116.20 L505.92 115.20 L505.91 114.20 L505.91 113.20 L505.91 112.20 L505.90 111.20 L505.90 110.20 L505.90 109.20 L505.91 108.20 L505.92 107.20 L505.93 106.20 L505.95 105.20 L505.97 104.20 L505.99 103.20 L506.02 102.20 L506.05 101.20 L506.08 100.20 L506.12 99.20 L506.16 98.20 L506.21 97.20 L506.25 96.20 L506.30 95.20 L506.35 94.20 L506.41 93.20 L506.47 92.20 L506.52 91.20 L506.59 90.20 L506.65 89.20 L506.72 88.20 L506.79 87.20 L506.86 86.20 L506.94 85.20 L507.02 84.20 L507.10 83.20 L507.18 82.20 L507.27 81.20 L507.36 80.20 L507.45 79.20 L507.54 78.20 L507.64 77.20 L507.74 76.20 L507.85 75.20 L507.95 74.20 L508.06 73.20 L508.18 72.20 L508.29 71.20 L508.42 70.20 L508.54 69.20 L508.67 68.20 L508.80 67.20 L508.94 66.20 L509.08 65.20 L509.22 64.20 L509.37 63.20 L509.52 62.20 L509.68 61.20 L509.85 60.20 L510.02 59.20 L510.19 58.20 L510.37 57.20 L510.56 56.20 L510.75 55.20 L510.95 54.20 L511.16 53.20 L511.37 52.20 L511.59 51.20 L511.82 50.20 L512.05 49.20 L512.29 48.20 L512.54 47.20 L512.80 46.20 L513.07 45.20 L513.35 44.20 L513.63 43.20 L513.93 42.20 L514.23 41.20 L514.55 40.20 L514.87 39.20 L515.21 38.20 L515.56 37.20 L515.92 36.20 L516.29 35.20 L516.68 34.20 L517.07 33.20 L517.48 32.20 L517.91 31.20 L518.34 30.20 L518.79 29.20 L519.26 28.20 L519.74 27.20 L520.24 26.20 L520.75 25.20 L521.28 24.20 L521.83 23.20 L522.39 22.20 L522.97 21.20 L523.57 20.20 L524.19 19.20 L524.82 18.20 L525.48 17.20 L526.16 16.20 L526.85 15.20 L527.57 14.20 L528.31 13.20 L529.07 12.20 L529.86 11.20 L530.66 10.20 L531.50 9.20 L532.35 8.20 L533.23 7.20 L534.14 6.20 L535.07 5.20 L536.03 4.20 L537.01 3.20 L538.03 2.20 L539.07 1.20 L540.14 0.20 L541.24 -0.80 L542.37 -1.80 L543.53 -2.80 L544.72 -3.80 L545.94 -4.80 L547.20 -5.80 L548.49 -6.80 L549.81 -7.80 L551.17 -8.80 L552.57 -9.80 L554.00 -10.80 L555.40 -11.80 L556.80 -10.80 L558.23 -9.80 L559.63 -8.80 L560.99 -7.80 L562.31 -6.80 L563.60 -5.80 L564.86 -4.80 L566.08 -3.80 L567.27 -2.80 L568.43 -1.80 L569.56 -0.80 L570.66 0.20 L571.73 1.20 L572.77 2.20 L573.79 3.20 L574.77 4.20 L575.73 5.20 L576.66 6.20 L577.57 7.20 L578.45 8.20 L579.30 9.20 L580.14 10.20 L580.94 11.20 L581.73 12.20 L582.49 13.20 L583.23 14.20 L583.95 15.20 L584.64 16.20 L585.32 17.20 L585.98 18.20 L586.61 19.20 L587.23 20.20 L587.83 21.20 L588.41 22.20 L588.97 23.20 L589.52 24.20 L590.05 25.20 L590.56 26.20 L591.06 27.20 L591.54 28.20 L592.01 29.20 L592.46 30.20 L592.89 31.20 L593.32 32.20 L593.73 33.20 L594.12 34.20 L594.51 35.20 L594.88 36.20 L595.24 37.20 L595.59 38.20 L595.93 39.20 L596.25 40.20 L596.57 41.20 L596.87 42.20 L597.17 43.20 L597.45 44.20 L597.73 45.20 L598.00 46.20 L598.26 47.20 L598.51 48.20 L598.75 49.20 L598.98 50.20 L599.21 51.20 L599.43 52.20 L599.64 53.20 L599.85 54.20 L600.05 55.20 L600.24 56.20 L600.43 57.20 L600.61 58.20 L600.78 59.20 L600.95 60.20 L601.12 61.20 L601.28 62.20 L601.43 63.20 L601.58 64.20 L601.72 65.20 L601.86 66.20 L602.00 67.20 L602.13 68.20 L602.26 69.20 L602.38 70.20 L602.51 71.20 L602.62 72.20 L602.74 73.20 L602.85 74.20 L602.95 75.20 L603.06 76.20 L603.16 77.20 L603.26 78.20 L603.35 79.20 L603.44 80.20 L603.53 81.20 L603.62 82.20 L603.70 83.20 L603.78 84.20 L603.86 85.20 L603.94 86.20 L604.01 87.20 L604.08 88.20 L604.15 89.20 L604.21 90.20 L604.28 91.20 L604.33 92.20 L604.39 93.20 L604.45 94.20 L604.50 95.20 L604.55 96.20 L604.59 97.20 L604.64 98.20 L604.68 99.20 L604.72 100.20 L604.75 101.20 L604.78 102.20 L604.81 103.20 L604.83 104.20 L604.85 105.20 L604.87 106.20 L604.88 107.20 L604.89 108.20 L604.90 109.20 L604.90 110.20 L604.90 111.20 L604.89 112.20 L604.89 113.20 L604.89 114.20 L604.88 115.20 L604.88 116.20 L604.88 117.20 L604.88 118.20 L604.87 119.20 L604.87 120.20 L604.87 121.20 L604.86 122.20 L604.86 123.20 L604.86 124.20 L604.86 125.20 L604.85 126.20 L604.85 127.20 L604.85 128.20 L604.84 129.20 L604.84 130.20 L604.84 131.20 L604.84 132.20 L604.83 133.20 L604.83 134.20 L604.83 135.20 L604.82 136.20 L604.82 137.20 L604.82 138.20 L604.81 139.20 L604.81 140.20 L604.81 141.20 L604.81 142.20 L604.80 143.20 L604.80 144.20 L604.80 145.20 L604.79 146.20 L604.79 147.20 L604.79 148.20 L604.79 149.20 L604.78 150.20 L604.78 151.20 L604.78 152.20 L604.77 153.20 L604.77 154.20 L604.77 155.20 L604.77 156.20 L604.76 157.20 L604.76 158.20 L604.76 159.20 L604.75 160.20 L604.75 161.20 L604.75 162.20 L604.75 163.20 L604.74 164.20 L604.74 165.20 L604.74 166.20 L604.73 167.20 L604.73 168.20 L604.73 169.20 L604.72 170.20 L604.72 171.20 L604.72 172.20 L604.72 173.20 L604.71 174.20 L604.71 175.20 L604.71 176.20 L604.70 177.20 L604.70 178.20 L604.70 179.20 L604.70 180.20 L604.69 181.20 L604.69 182.20 L604.69 183.20 L604.68 184.20 L604.68 185.20 L604.68 186.20 L604.68 187.20 L604.67 188.20 L604.67 189.20 L604.67 190.20 L604.66 191.20 L604.66 192.20 L604.66 193.20 L604.65 194.20 L604.65 195.20 L604.65 196.20 L604.65 197.20 L604.64 198.20 L604.64 199.20 L604.64 200.20 L604.63 201.20 L604.63 202.20 L604.63 203.20 L604.63 204.20 L604.62 205.20 L604.62 206.20 L604.62 207.20 L604.61 208.20 L604.61 209.20 L604.61 210.20 L604.61 211.20 L604.60 212.20 L604.60 213.20 L604.60 214.20 L604.59 215.20 L604.59 216.20 L604.59 217.20 L604.58 218.20 L604.58 219.20 L604.58 220.20 L604.58 221.20 L604.57 222.20 L604.57 223.20 L604.57 224.20 L604.56 225.20 L604.56 226.20 L604.56 227.20 L604.55 228.20 L604.55 229.20 L604.55 230.20 L604.55 231.20 L604.54 232.20 L604.54 233.20 L604.54 234.20 L604.53 235.20 L604.53 236.20 L604.53 237.20 L604.52 238.20 L604.52 239.20 L604.52 240.20 L604.52 241.20 L604.51 242.20 L604.51 243.20 L604.51 244.20 L604.50 245.20 L604.50 246.20 L604.50 247.20 L604.49 248.20 L604.49 249.20 L604.49 250.20 L604.49 251.20 L604.48 252.20 L604.48 253.20 L604.48 254.20 L604.47 255.20 L604.47 256.20 L604.47 257.20 L604.46 258.20 L604.46 259.20 L604.46 260.20 L604.46 261.20 L604.45 262.20 L604.45 263.20 L604.45 264.20 L604.44 265.20 L604.44 266.20 L604.44 267.20 L604.43 268.20 L604.43 269.20 L604.43 270.20 L604.43 271.20 L604.42 272.20 L604.42 273.20 L604.42 274.20 L604.41 275.20 L604.41 276.20 L604.41 277.20 L604.40 278.20 L604.40 279.20 L604.40 280.20 L604.40 281.20 L604.39 282.20 L604.39 283.20 L604.39 284.20 L604.38 285.20 L604.38 286.20 L604.38 287.20 L604.37 288.20 L604.37 289.20 L604.37 290.20 L604.37 291.20 L604.36 292.20 L604.36 293.20 L604.36 294.20 L604.35 295.20 L604.35 296.20 L604.35 297.20 L604.34 298.20 L604.34 299.20 L604.34 300.20 L604.34 301.20 L604.33 302.20 L604.33 303.20 L604.33 304.20 L604.32 305.20 L604.32 306.20 L604.32 307.20 L604.31 308.20 L604.31 309.20 L604.31 310.20 L604.31 311.20 L604.30 312.20 L604.30 313.20 L604.27 314.20 L604.25 315.20 L604.23 316.20 L604.21 317.20 L604.18 318.20 L604.16 319.20 L604.14 320.20 L604.12 321.20 L604.09 322.20 L604.07 323.20 L604.05 324.20 L604.03 325.20 L604.00 326.20 L603.98 327.20 L603.96 328.20 L603.94 329.20 L603.91 330.20 L603.89 331.20 L603.87 332.20 L603.85 333.20 L603.82 334.20 L603.80 335.20 L603.78 336.20 L603.76 337.20 L603.73 338.20 L603.71 339.20 L603.69 340.20 L603.67 341.20 L603.64 342.20 L603.62 343.20 L603.60 344.20 L603.58 345.20 L603.55 346.20 L603.53 347.20 L603.51 348.20 L603.49 349.20 L603.46 350.20 L603.44 351.20 L603.42 352.20 L603.40 353.20 L603.40 354.20 L603.39 355.20 L603.39 356.20 L603.39 357.20 L603.38 358.20 L603.38 359.20 L603.38 360.20 L603.37 361.20 L603.37 362.20 L603.37 363.20 L603.37 364.20 L603.36 365.20 L603.36 366.20 L603.36 367.20 L603.35 368.20 L603.35 369.20 L603.35 370.20 L603.34 371.20 L603.34 372.20 L603.34 373.20 L603.33 374.20 L603.33 375.20 L603.33 376.20 L603.32 377.20 L603.32 378.20 L603.32 379.20 L603.31 380.20 L603.31 381.20 L603.31 382.20 L603.31 383.20 L603.30 384.20 L603.28 385.20 L603.16 386.20 L603.05 387.20 L602.93 388.20 L602.82 389.20 L602.70 390.20 L602.58 391.20 L602.47 392.20 L602.35 393.20 L602.24 394.20 L602.12 395.20 L602.01 396.20 L601.89 397.20 L601.78 398.20 L601.68 399.20 L601.58 400.20 L601.48 401.20 L601.38 402.20 L601.28 403.20 L601.18 404.20 L601.08 405.20 L600.98 406.20 L600.88 407.20 L600.78 408.20 L600.68 409.20 L600.58 410.20 L600.50 411.20 L600.41 412.20 L600.33 413.20 L600.24 414.20 L600.15 415.20 L600.07 416.20 L599.98 417.20 L599.90 418.20 L599.81 419.20 L599.73 420.20 L599.64 421.20 L599.55 422.20 L599.47 423.20 L599.39 424.20 L599.32 425.20 L599.25 426.20 L599.18 427.20 L599.11 428.20 L599.04 429.20 L598.97 430.20 L598.90 431.20 L598.83 432.20 L598.76 433.20 L598.70 434.00" fill="none" stroke="#000" stroke-width="4.2" />
<path d="M511.30 396.00 L511.29 395.50 L511.26 394.50 L511.23 393.50 L511.20 392.50 L511.18 391.50 L511.15 390.50 L511.12 389.50 L511.10 388.50 L511.07 387.50 L511.04 386.50 L511.01 385.50 L510.99 384.50 L510.96 383.50 L510.93 382.50 L510.90 381.50 L510.87 380.50 L510.85 379.50 L510.82 378.50 L510.79 377.50 L510.76 376.50 L510.73 375.50 L510.70 374.50 L510.68 373.50 L510.65 372.50 L510.62 371.50 L510.59 370.50 L510.56 369.50 L510.54 368.50 L510.51 367.50 L510.48 366.50 L510.45 365.50 L510.42 364.50 L510.40 363.50 L510.37 362.50 L510.34 361.50 L510.31 360.50 L510.28 359.50 L510.25 358.50 L510.23 357.50 L510.20 356.50 L510.17 355.50 L510.14 354.50 L510.11 353.50 L510.09 352.50 L510.08 351.50 L510.06 350.50 L510.05 349.50 L510.03 348.50 L510.02 347.50 L510.00 346.50 L509.99 345.50 L509.97 344.50 L509.96 343.50 L509.94 342.50 L509.93 341.50 L509.91 340.50 L509.90 339.50 L509.88 338.50 L509.87 337.50 L509.85 336.50 L509.84 335.50 L509.82 334.50 L509.81 333.50 L509.79 332.50 L509.78 331.50 L509.76 330.50 L509.75 329.50 L509.73 328.50 L509.72 327.50 L509.70 326.50 L509.69 325.50 L509.67 324.50 L509.66 323.50 L509.64 322.50 L509.63 321.50 L509.61 320.50 L509.60 319.50 L509.58 318.50 L509.57 317.50 L509.55 316.50 L509.54 315.50 L509.52 314.50 L509.51 313.50 L509.50 312.50 L509.49 311.50 L509.48 310.50 L509.48 309.50 L509.47 308.50 L509.47 307.50 L509.46 306.50 L509.45 305.50 L509.45 304.50 L509.44 303.50 L509.44 302.50 L509.43 301.50 L509.42 300.50 L509.42 299.50 L509.41 298.50 L509.41 297.50 L509.40 296.50 L509.39 295.50 L509.39 294.50 L509.38 293.50 L509.38 292.50 L509.37 291.50 L509.37 290.50 L509.36 289.50 L509.35 288.50 L509.35 287.50 L509.34 286.50 L509.33 285.50 L509.33 284.50 L509.32 283.50 L509.32 282.50 L509.31 281.50 L509.30 280.50 L509.30 279.50 L509.29 278.50 L509.29 277.50 L509.28 276.50 L509.27 275.50 L509.27 274.50 L509.26 273.50 L509.26 272.50 L509.25 271.50 L509.25 270.50 L509.24 269.50 L509.23 268.50 L509.23 267.50 L509.22 266.50 L509.21 265.50 L509.21 264.50 L509.20 263.50 L509.20 262.50 L509.19 261.50 L509.19 260.50 L509.18 259.50 L509.17 258.50 L509.17 257.50 L509.16 256.50 L509.15 255.50 L509.15 254.50 L509.14 253.50 L509.14 252.50 L509.13 251.50 L509.12 250.50 L509.12 249.50 L509.11 248.50 L509.11 247.50 L509.10 246.50 L509.09 245.50 L509.09 244.50 L509.08 243.50 L509.08 242.50 L509.07 241.50 L509.06 240.50 L509.06 239.50 L509.05 238.50 L509.05 237.50 L509.04 236.50 L509.03 235.50 L509.03 234.50 L509.02 233.50 L509.02 232.50 L509.01 231.50 L509.00 230.50 L509.00 229.50 L508.99 228.50 L508.99 227.50 L508.98 226.50 L508.97 225.50 L508.97 224.50 L508.96 223.50 L508.96 222.50 L508.95 221.50 L508.94 220.50 L508.94 219.50 L508.93 218.50 L508.93 217.50 L508.92 216.50 L508.91 215.50 L508.91 214.50 L508.90 213.50 L508.90 212.50 L508.90 211.50 L508.90 210.50 L508.90 209.50 L508.89 208.50 L508.89 207.50 L508.89 206.50 L508.89 205.50 L508.89 204.50 L508.89 203.50 L508.89 202.50 L508.89 201.50 L508.89 200.50 L508.88 199.50 L508.88 198.50 L508.88 197.50 L508.88 196.50 L508.88 195.50 L508.88 194.50 L508.88 193.50 L508.88 192.50 L508.87 191.50 L508.87 190.50 L508.87 189.50 L508.87 188.50 L508.87 187.50 L508.87 186.50 L508.87 185.50 L508.87 184.50 L508.87 183.50 L508.86 182.50 L508.86 181.50 L508.86 180.50 L508.86 179.50 L508.86 178.50 L508.86 177.50 L508.86 176.50 L508.86 175.50 L508.85 174.50 L508.85 173.50 L508.85 172.50 L508.85 171.50 L508.85 170.50 L508.85 169.50 L508.85 168.50 L508.85 167.50 L508.85 166.50 L508.84 165.50 L508.84 164.50 L508.84 163.50 L508.84 162.50 L508.84 161.50 L508.84 160.50 L508.84 159.50 L508.84 158.50 L508.83 157.50 L508.83 156.50 L508.83 155.50 L508.83 154.50 L508.83 153.50 L508.83 152.50 L508.83 151.50 L508.83 150.50 L508.83 149.50 L508.82 148.50 L508.82 147.50 L508.82 146.50 L508.82 145.50 L508.82 144.50 L508.82 143.50 L508.82 142.50 L508.82 141.50 L508.81 140.50 L508.81 139.50 L508.81 138.50 L508.81 137.50 L508.81 136.50 L508.81 135.50 L508.81 134.50 L508.81 133.50 L508.81 132.50 L508.80 131.50 L508.80 130.50 L508.80 129.50 L508.80 128.50 L508.80 127.50 L508.80 126.50 L508.80 125.50 L508.80 124.50 L508.80 123.50 L508.80 122.50 L508.80 121.50 L508.81 120.50 L508.81 119.50 L508.82 118.50 L508.82 117.50 L508.83 116.50 L508.84 115.50 L508.85 114.50 L508.87 113.50 L508.88 112.50 L508.90 111.50 L508.92 110.50 L508.95 109.50 L508.97 108.50 L509.00 107.50 L509.03 106.50 L509.07 105.50 L509.11 104.50 L509.15 103.50 L509.19 102.50 L509.24 101.50 L509.29 100.50 L509.35 99.50 L509.41 98.50 L509.47 97.50 L509.54 96.50 L509.61 95.50 L509.69 94.50 L509.77 93.50 L509.85 92.50 L509.94 91.50 L510.03 90.50 L510.13 89.50 L510.23 88.50 L510.34 87.50 L510.46 86.50 L510.57 85.50 L510.70 84.50 L510.83 83.50 L510.96 82.50 L511.10 81.50 L511.25 80.50 L511.40 79.50 L511.55 78.50 L511.72 77.50 L511.88 76.50 L512.06 75.50 L512.24 74.50 L512.43 73.50 L512.62 72.50 L512.82 71.50 L513.03 70.50 L513.24 69.50 L513.46 68.50 L513.69 67.50 L513.92 66.50 L514.17 65.50 L514.42 64.50 L514.67 63.50 L514.94 62.50 L515.21 61.50 L515.49 60.50 L515.78 59.50 L516.07 58.50 L516.37 57.50 L516.69 56.50 L517.01 55.50 L517.34 54.50 L517.68 53.50 L518.02 52.50 L518.38 51.50 L518.75 50.50 L519.12 49.50 L519.51 48.50 L519.90 47.50 L520.30 46.50 L520.72 45.50 L521.15 44.50 L521.58 43.50 L522.03 42.50 L522.49 41.50 L522.95 40.50 L523.43 39.50 L523.93 38.50 L524.43 37.50 L524.95 36.50 L525.47 35.50 L526.01 34.50 L526.57 33.50 L527.13 32.50 L527.71 31.50 L528.31 30.50 L528.92 29.50 L529.54 28.50 L530.17 27.50 L530.82 26.50 L531.49 25.50 L532.17 24.50 L532.87 23.50 L533.58 22.50 L534.31 21.50 L535.05 20.50 L535.82 19.50 L536.60 18.50 L537.39 17.50 L538.21 16.50 L539.04 15.50 L539.90 14.50 L540.77 13.50 L541.66 12.50 L542.57 11.50 L543.50 10.50 L544.45 9.50 L545.43 8.50 L546.42 7.50 L547.44 6.50 L548.48 5.50 L549.54 4.50 Q555.40 -0.95 561.26 4.50 L562.32 5.50 L563.36 6.50 L564.38 7.50 L565.37 8.50 L566.35 9.50 L567.30 10.50 L568.23 11.50 L569.14 12.50 L570.03 13.50 L570.90 14.50 L571.76 15.50 L572.59 16.50 L573.41 17.50 L574.20 18.50 L574.98 19.50 L575.75 20.50 L576.49 21.50 L577.22 22.50 L577.93 23.50 L578.63 24.50 L579.31 25.50 L579.98 26.50 L580.63 27.50 L581.26 28.50 L581.88 29.50 L582.49 30.50 L583.09 31.50 L583.67 32.50 L584.23 33.50 L584.79 34.50 L585.33 35.50 L585.85 36.50 L586.37 37.50 L586.87 38.50 L587.37 39.50 L587.85 40.50 L588.31 41.50 L588.77 42.50 L589.22 43.50 L589.65 44.50 L590.08 45.50 L590.50 46.50 L590.90 47.50 L591.29 48.50 L591.68 49.50 L592.05 50.50 L592.42 51.50 L592.78 52.50 L593.12 53.50 L593.46 54.50 L593.79 55.50 L594.11 56.50 L594.43 57.50 L594.73 58.50 L595.02 59.50 L595.31 60.50 L595.59 61.50 L595.86 62.50 L596.13 63.50 L596.38 64.50 L596.63 65.50 L596.88 66.50 L597.11 67.50 L597.34 68.50 L597.56 69.50 L597.77 70.50 L597.98 71.50 L598.18 72.50 L598.37 73.50 L598.56 74.50 L598.74 75.50 L598.92 76.50 L599.08 77.50 L599.25 78.50 L599.40 79.50 L599.55 80.50 L599.70 81.50 L599.84 82.50 L599.97 83.50 L600.10 84.50 L600.23 85.50 L600.34 86.50 L600.46 87.50 L600.57 88.50 L600.67 89.50 L600.77 90.50 L600.86 91.50 L600.95 92.50 L601.03 93.50 L601.11 94.50 L601.19 95.50 L601.26 96.50 L601.33 97.50 L601.39 98.50 L601.45 99.50 L601.51 100.50 L601.56 101.50 L601.61 102.50 L601.65 103.50 L601.69 104.50 L601.73 105.50 L601.77 106.50 L601.80 107.50 L601.83 108.50 L601.85 109.50 L601.88 110.50 L601.90 111.50 L601.92 112.50 L601.93 113.50 L601.95 114.50 L601.96 115.50 L601.97 116.50 L601.98 117.50 L601.98 118.50 L601.99 119.50 L601.99 120.50 L602.00 121.50 L602.00 122.50 L602.00 123.50 L602.00 124.50 L602.00 125.50 L602.00 126.50 L602.00 127.50 L602.00 128.50 L602.00 129.50 L602.00 130.50 L602.00 131.50 L601.99 132.50 L601.99 133.50 L601.99 134.50 L601.99 135.50 L601.99 136.50 L601.99 137.50 L601.99 138.50 L601.99 139.50 L601.99 140.50 L601.98 141.50 L601.98 142.50 L601.98 143.50 L601.98 144.50 L601.98 145.50 L601.98 146.50 L601.98 147.50 L601.98 148.50 L601.97 149.50 L601.97 150.50 L601.97 151.50 L601.97 152.50 L601.97 153.50 L601.97 154.50 L601.97 155.50 L601.97 156.50 L601.97 157.50 L601.96 158.50 L601.96 159.50 L601.96 160.50 L601.96 161.50 L601.96 162.50 L601.96 163.50 L601.96 164.50 L601.96 165.50 L601.95 166.50 L601.95 167.50 L601.95 168.50 L601.95 169.50 L601.95 170.50 L601.95 171.50 L601.95 172.50 L601.95 173.50 L601.95 174.50 L601.94 175.50 L601.94 176.50 L601.94 177.50 L601.94 178.50 L601.94 179.50 L601.94 180.50 L601.94 181.50 L601.94 182.50 L601.93 183.50 L601.93 184.50 L601.93 185.50 L601.93 186.50 L601.93 187.50 L601.93 188.50 L601.93 189.50 L601.93 190.50 L601.93 191.50 L601.92 192.50 L601.92 193.50 L601.92 194.50 L601.92 195.50 L601.92 196.50 L601.92 197.50 L601.92 198.50 L601.92 199.50 L601.91 200.50 L601.91 201.50 L601.91 202.50 L601.91 203.50 L601.91 204.50 L601.91 205.50 L601.91 206.50 L601.91 207.50 L601.91 208.50 L601.90 209.50 L601.90 210.50 L601.90 211.50 L601.90 212.50 L601.90 213.50 L601.89 214.50 L601.88 215.50 L601.88 216.50 L601.87 217.50 L601.87 218.50 L601.86 219.50 L601.86 220.50 L601.85 221.50 L601.84 222.50 L601.84 223.50 L601.83 224.50 L601.82 225.50 L601.82 226.50 L601.81 227.50 L601.81 228.50 L601.80 229.50 L601.79 230.50 L601.79 231.50 L601.78 232.50 L601.78 233.50 L601.77 234.50 L601.76 235.50 L601.76 236.50 L601.75 237.50 L601.75 238.50 L601.74 239.50 L601.74 240.50 L601.73 241.50 L601.72 242.50 L601.72 243.50 L601.71 244.50 L601.70 245.50 L601.70 246.50 L601.69 247.50 L601.69 248.50 L601.68 249.50 L601.67 250.50 L601.67 251.50 L601.66 252.50 L601.66 253.50 L601.65 254.50 L601.64 255.50 L601.64 256.50 L601.63 257.50 L601.63 258.50 L601.62 259.50 L601.62 260.50 L601.61 261.50 L601.60 262.50 L601.60 263.50 L601.59 264.50 L601.59 265.50 L601.58 266.50 L601.57 267.50 L601.57 268.50 L601.56 269.50 L601.55 270.50 L601.55 271.50 L601.54 272.50 L601.54 273.50 L601.53 274.50 L601.52 275.50 L601.52 276.50 L601.51 277.50 L601.51 278.50 L601.50 279.50 L601.50 280.50 L601.49 281.50 L601.48 282.50 L601.48 283.50 L601.47 284.50 L601.46 285.50 L601.46 286.50 L601.45 287.50 L601.45 288.50 L601.44 289.50 L601.43 290.50 L601.43 291.50 L601.42 292.50 L601.42 293.50 L601.41 294.50 L601.40 295.50 L601.40 296.50 L601.39 297.50 L601.39 298.50 L601.38 299.50 L601.38 300.50 L601.37 301.50 L601.36 302.50 L601.36 303.50 L601.35 304.50 L601.35 305.50 L601.34 306.50 L601.33 307.50 L601.33 308.50 L601.32 309.50 L601.31 310.50 L601.31 311.50 L601.30 312.50 L601.29 313.50 L601.28 314.50 L601.26 315.50 L601.25 316.50 L601.23 317.50 L601.22 318.50 L601.20 319.50 L601.19 320.50 L601.17 321.50 L601.16 322.50 L601.14 323.50 L601.13 324.50 L601.11 325.50 L601.10 326.50 L601.08 327.50 L601.07 328.50 L601.05 329.50 L601.04 330.50 L601.02 331.50 L601.01 332.50 L600.99 333.50 L600.98 334.50 L600.96 335.50 L600.95 336.50 L600.93 337.50 L600.92 338.50 L600.90 339.50 L600.89 340.50 L600.87 341.50 L600.86 342.50 L600.84 343.50 L600.83 344.50 L600.81 345.50 L600.80 346.50 L600.78 347.50 L600.77 348.50 L600.75 349.50 L600.74 350.50 L600.72 351.50 L600.71 352.50 L600.69 353.50 L600.66 354.50 L600.63 355.50 L600.60 356.50 L600.57 357.50 L600.55 358.50 L600.52 359.50 L600.49 360.50 L600.46 361.50 L600.43 362.50 L600.40 363.50 L600.38 364.50 L600.35 365.50 L600.32 366.50 L600.29 367.50 L600.26 368.50 L600.24 369.50 L600.21 370.50 L600.18 371.50 L600.15 372.50 L600.12 373.50 L600.10 374.50 L600.07 375.50 L600.04 376.50 L600.01 377.50 L599.98 378.50 L599.95 379.50 L599.93 380.50 L599.90 381.50 L599.87 382.50 L599.84 383.50 L599.81 384.50 L599.79 385.50 L599.76 386.50 L599.73 387.50 L599.70 388.50 L599.68 389.50 L599.65 390.50 L599.62 391.50 L599.60 392.50 L599.57 393.50 L599.54 394.50 L599.51 395.50 L599.50 396.00" fill="none" stroke="#000" stroke-width="1.5" />
<path d="M599.50 396.00 C599.45 396.67 599.63 398.58 599.20 400.00 C598.77 401.42 597.95 403.23 596.90 404.50 C595.85 405.77 594.25 406.90 592.90 407.60 C591.55 408.30 589.48 408.52 588.80 408.70" fill="none" stroke="#000" stroke-width="1.4" />
<path d="M598.40 403.00 C598.27 403.47 598.27 404.70 597.60 405.80 C596.93 406.90 595.87 408.67 594.40 409.60 C592.93 410.53 589.73 411.10 588.80 411.40" fill="none" stroke="#000" stroke-width="1.4" />
<line x1="588.80" y1="408.50" x2="588.80" y2="424.00" stroke="#000" stroke-width="1.1"/>
<line x1="578.00" y1="412.20" x2="578.00" y2="424.00" stroke="#000" stroke-width="1.1"/>
<line x1="588.60" y1="416.60" x2="578.20" y2="413.20" stroke="#000" stroke-width="1.5"/>
<line x1="588.60" y1="420.70" x2="578.20" y2="417.30" stroke="#000" stroke-width="1.5"/>
<line x1="588.60" y1="424.80" x2="578.20" y2="421.40" stroke="#000" stroke-width="1.5"/>
<line x1="588.80" y1="408.50" x2="588.80" y2="424.00" stroke="#000" stroke-width="1.4"/>
<line x1="578.00" y1="412.20" x2="578.00" y2="424.00" stroke="#000" stroke-width="1.4"/>
<path d="M511.30 396.00 C511.35 396.67 511.17 398.58 511.60 400.00 C512.03 401.42 512.85 403.23 513.90 404.50 C514.95 405.77 516.55 406.90 517.90 407.60 C519.25 408.30 521.32 408.52 522.00 408.70" fill="none" stroke="#000" stroke-width="1.4" />
<path d="M512.40 403.00 C512.53 403.47 512.53 404.70 513.20 405.80 C513.87 406.90 514.93 408.67 516.40 409.60 C517.87 410.53 521.07 411.10 522.00 411.40" fill="none" stroke="#000" stroke-width="1.4" />
<line x1="522.00" y1="408.50" x2="522.00" y2="424.00" stroke="#000" stroke-width="1.1"/>
<line x1="532.80" y1="412.20" x2="532.80" y2="424.00" stroke="#000" stroke-width="1.1"/>
<line x1="522.20" y1="416.60" x2="532.60" y2="413.20" stroke="#000" stroke-width="1.5"/>
<line x1="522.20" y1="420.70" x2="532.60" y2="417.30" stroke="#000" stroke-width="1.5"/>
<line x1="522.20" y1="424.80" x2="532.60" y2="421.40" stroke="#000" stroke-width="1.5"/>
<line x1="522.00" y1="408.50" x2="522.00" y2="424.00" stroke="#000" stroke-width="1.4"/>
<line x1="532.80" y1="412.20" x2="532.80" y2="424.00" stroke="#000" stroke-width="1.4"/>
<line x1="522.00" y1="411.80" x2="588.80" y2="411.80" stroke="#000" stroke-width="1.4"/>
<line x1="532.80" y1="419.80" x2="578.00" y2="419.80" stroke="#000" stroke-width="1.8"/>
<line x1="526.30" y1="37.30" x2="584.50" y2="37.30" stroke="#000" stroke-width="1.6"/>
<rect x="549.00" y="37.80" width="13.60" height="7.90" rx="0" fill="#000" stroke="#000" stroke-width="0.4"/>
<rect x="550.70" y="40.70" width="3.20" height="3.30" rx="0" fill="#fff" stroke="#fff" stroke-width="0.4"/>
<rect x="557.90" y="40.70" width="3.20" height="3.30" rx="0" fill="#fff" stroke="#fff" stroke-width="0.4"/>
<rect x="544.90" y="46.50" width="21.10" height="10.10" rx="0" fill="#000" stroke="#000" stroke-width="0.4"/>
<rect x="546.50" y="48.10" width="7.00" height="7.20" rx="0" fill="#fff" stroke="#fff" stroke-width="0.4"/>
<rect x="557.80" y="48.10" width="7.00" height="7.20" rx="0" fill="#fff" stroke="#fff" stroke-width="0.4"/>
<rect x="548.80" y="51.00" width="1.20" height="1.40" rx="0" fill="#000" stroke="#000" stroke-width="0.3"/>
<rect x="560.50" y="51.00" width="1.20" height="1.40" rx="0" fill="#000" stroke="#000" stroke-width="0.3"/>
<path d="M551.3 56.6 L559.6 56.6 L559.6 64.2 L551.3 64.2Z" fill="#000"/>
<path d="M545.20 56.60 L544.60 59.20 L551.30 64.20" fill="none" stroke="#000" stroke-width="1.6" />
<path d="M565.70 56.60 L566.30 59.20 L559.60 64.20" fill="none" stroke="#000" stroke-width="1.6" />
<line x1="551.00" y1="66.00" x2="551.00" y2="86.80" stroke="#000" stroke-width="1.6"/>
<line x1="560.10" y1="66.00" x2="560.10" y2="86.80" stroke="#000" stroke-width="1.6"/>
<path d="M575.00 49.80 L577.00 52.00 L575.00 54.00Z" fill="#000" stroke="#000" stroke-width="1.3" />
<circle cx="573.00" cy="51.80" r="2.80" fill="none" stroke="#000" stroke-width="1.5"/>
<line x1="574.90" y1="51.80" x2="571.00" y2="51.80" stroke="#000" stroke-width="1.1"/>
<line x1="570.40" y1="51.60" x2="568.20" y2="52.60" stroke="#000" stroke-width="1.0"/>
<line x1="593.30" y1="57.60" x2="570.80" y2="57.60" stroke="#000" stroke-width="1.5"/>
<rect x="572.40" y="58.20" width="10.60" height="8.80" rx="0" fill="none" stroke="#000" stroke-width="1.1"/>
<ellipse cx="578.20" cy="62.60" rx="2.60" ry="2.80" fill="none" stroke="#000" stroke-width="1.0"/>
<line x1="584.80" y1="57.00" x2="586.40" y2="86.60" stroke="#000" stroke-width="1.6"/>
<line x1="572.30" y1="57.50" x2="575.80" y2="86.60" stroke="#000" stroke-width="1.6"/>
<path d="M535.80 49.80 L533.80 52.00 L535.80 54.00Z" fill="#000" stroke="#000" stroke-width="1.3" />
<circle cx="537.80" cy="51.80" r="2.80" fill="none" stroke="#000" stroke-width="1.5"/>
<line x1="535.90" y1="51.80" x2="539.80" y2="51.80" stroke="#000" stroke-width="1.1"/>
<line x1="540.40" y1="51.60" x2="542.60" y2="52.60" stroke="#000" stroke-width="1.0"/>
<line x1="517.50" y1="57.60" x2="540.00" y2="57.60" stroke="#000" stroke-width="1.5"/>
<rect x="527.80" y="58.20" width="10.60" height="8.80" rx="0" fill="none" stroke="#000" stroke-width="1.1"/>
<ellipse cx="532.60" cy="62.60" rx="2.60" ry="2.80" fill="none" stroke="#000" stroke-width="1.0"/>
<line x1="526.00" y1="57.00" x2="524.40" y2="86.60" stroke="#000" stroke-width="1.6"/>
<line x1="538.50" y1="57.50" x2="535.00" y2="86.60" stroke="#000" stroke-width="1.6"/>
<line x1="510.00" y1="86.80" x2="550.80" y2="86.80" stroke="#000" stroke-width="1.6"/>
<line x1="560.20" y1="86.80" x2="600.80" y2="86.80" stroke="#000" stroke-width="1.6"/>
<path d="M548.00 86.80 L548.00 97.50 L534.60 97.50 L534.60 112.40 L528.80 112.40" fill="none" stroke="#000" stroke-width="1.6" />
<rect x="525.40" y="99.20" width="9.20" height="10.60" rx="0" fill="#000" stroke="#000" stroke-width="0.6"/>
<path d="M527.2 100.6 L532.3 100.6 L531.6 101.8 L528.0 101.8Z M529.5 104.2 L531.6 104.6 L531.2 105.8 L529.4 105.6Z M529.5 108.0 L531.6 108.0 L531.2 109.0 L529.8 109.0Z" fill="#fff"/>
<rect x="539.40" y="105.00" width="15.00" height="10.40" rx="0" fill="none" stroke="#000" stroke-width="1.6"/>
<path d="M539.60 106.50 C539.83 106.00 540.35 104.00 541.00 103.50 C541.65 103.00 542.73 103.17 543.50 103.50 C544.27 103.83 544.85 105.50 545.60 105.50 C546.35 105.50 547.00 103.83 548.00 103.50 C549.00 103.17 550.63 103.00 551.60 103.50 C552.57 104.00 553.43 106.00 553.80 106.50" fill="none" stroke="#000" stroke-width="1.6" />
<line x1="541.30" y1="115.40" x2="541.30" y2="123.20" stroke="#000" stroke-width="1.6"/>
<line x1="549.40" y1="115.40" x2="549.40" y2="142.00" stroke="#000" stroke-width="1.6"/>
<line x1="541.30" y1="123.20" x2="601.00" y2="123.20" stroke="#000" stroke-width="1.6"/>
<line x1="554.40" y1="106.60" x2="560.50" y2="106.60" stroke="#000" stroke-width="1.0"/>
<rect x="521.40" y="119.00" width="6.10" height="4.50" rx="0" fill="none" stroke="#000" stroke-width="1.0"/>
<rect x="521.40" y="125.00" width="6.10" height="5.50" rx="0" fill="none" stroke="#000" stroke-width="1.0"/>
<line x1="560.80" y1="86.80" x2="560.80" y2="101.00" stroke="#000" stroke-width="1.6"/>
<rect x="561.00" y="88.00" width="30.00" height="11.20" rx="0" fill="none" stroke="#000" stroke-width="1.6"/>
<ellipse cx="565.20" cy="93.60" rx="2.30" ry="4.00" fill="none" stroke="#000" stroke-width="1.5"/>
<path d="M570.20 89.60 L570.20 98.00 L572.60 98.00" fill="none" stroke="#000" stroke-width="1.7" />
<rect x="571.40" y="95.60" width="1.20" height="1.40" rx="0" fill="#000" stroke="#000" stroke-width="0.5"/>
<path d="M560.50 101.00 L563.50 102.50 L562.00 104.50 L566.00 106.50" fill="none" stroke="#000" stroke-width="1.1" />
<line x1="560.50" y1="109.50" x2="601.00" y2="109.50" stroke="#000" stroke-width="1.6"/>
<path d="M563.50 113.00 C564.00 112.87 565.78 111.78 566.50 112.20 C567.22 112.62 568.13 114.77 567.80 115.50 C567.47 116.23 564.50 116.12 564.50 116.60 C564.50 117.08 567.80 117.95 567.80 118.40 C567.80 118.85 565.05 119.15 564.50 119.30" fill="none" stroke="#000" stroke-width="1.2" />
<rect x="569.20" y="111.80" width="11.20" height="9.20" rx="0" fill="none" stroke="#000" stroke-width="1.6"/>
<circle cx="575.00" cy="116.20" r="0.60" fill="#000" stroke="#000" stroke-width="1.0"/>
<rect x="586.40" y="113.60" width="6.40" height="5.60" rx="2.6" fill="none" stroke="#000" stroke-width="2.0"/>
<path d="M588.20 116.40 L590.00 115.20 L590.00 117.60Z" fill="#000" stroke="#000" stroke-width="0.8" />
<line x1="583.60" y1="109.50" x2="583.60" y2="123.20" stroke="#000" stroke-width="1.6"/>
<rect x="556.80" y="124.00" width="26.80" height="31.00" rx="2.2" fill="#C98A42" stroke="#000" stroke-width="1.3"/>
<rect x="558.60" y="126.20" width="10.60" height="4.80" rx="2.4" fill="#C98A42" stroke="#000" stroke-width="1.0"/>
<rect x="571.20" y="126.20" width="10.60" height="4.80" rx="2.4" fill="#C98A42" stroke="#000" stroke-width="1.0"/>
<line x1="557.60" y1="133.60" x2="582.80" y2="133.60" stroke="#000" stroke-width="1.1"/>
<path d="M578.60 136.50 L581.00 133.80 L582.40 136.50Z" fill="#000" stroke="#000" stroke-width="0.9" />
<line x1="528.80" y1="112.30" x2="528.80" y2="144.40" stroke="#000" stroke-width="1.6"/>
<rect x="540.00" y="124.00" width="9.40" height="18.00" rx="0" fill="none" stroke="#000" stroke-width="1.6"/>
<line x1="509.40" y1="144.50" x2="532.00" y2="144.50" stroke="#000" stroke-width="1.6"/>
<rect x="521.30" y="144.50" width="10.00" height="21.30" rx="0" fill="none" stroke="#000" stroke-width="1.6"/>
<line x1="521.30" y1="155.00" x2="531.30" y2="155.00" stroke="#000" stroke-width="1.2"/>
<line x1="521.30" y1="158.20" x2="531.30" y2="158.20" stroke="#000" stroke-width="1.2"/>
<line x1="521.30" y1="161.40" x2="531.30" y2="161.40" stroke="#000" stroke-width="1.2"/>
<line x1="521.30" y1="164.50" x2="531.30" y2="164.50" stroke="#000" stroke-width="1.2"/>
<line x1="522.50" y1="146.00" x2="530.00" y2="153.00" stroke="#000" stroke-width="1.0"/>
<line x1="526.50" y1="145.50" x2="526.00" y2="153.00" stroke="#000" stroke-width="1.0"/>
<line x1="509.40" y1="166.90" x2="550.00" y2="166.90" stroke="#000" stroke-width="2.1"/>
<line x1="550.00" y1="142.00" x2="550.00" y2="167.00" stroke="#000" stroke-width="1.6"/>
<line x1="560.00" y1="166.40" x2="601.80" y2="166.40" stroke="#000" stroke-width="1.6"/>
<path d="M549.00 168.20 L543.20 171.00 L548.80 174.20" fill="none" stroke="#000" stroke-width="1.3" />
<path d="M556.00 177.00 L551.00 182.50 L551.00 185.50" fill="none" stroke="#000" stroke-width="1.3" />
<rect x="518.00" y="172.40" width="7.00" height="4.40" rx="1.8" fill="none" stroke="#000" stroke-width="1.3"/>
<rect x="518.00" y="179.00" width="7.00" height="4.00" rx="1.8" fill="none" stroke="#000" stroke-width="1.3"/>
<circle cx="532.40" cy="185.60" r="2.00" fill="none" stroke="#000" stroke-width="1.2"/>
<line x1="532.40" y1="187.60" x2="532.40" y2="189.60" stroke="#000" stroke-width="1.0"/>
<path d="M538.8 188.6 L538.8 182.5 C538.8 180.4 540.5 179.3 542.5 179.3 L550.0 179.3 L550.0 188.6 Z" fill="none" stroke="#000" stroke-width="1.6" />
<line x1="509.40" y1="191.00" x2="550.00" y2="191.00" stroke="#000" stroke-width="1.6"/>
<line x1="510.00" y1="191.00" x2="510.00" y2="234.00" stroke="#000" stroke-width="1.6"/>
<line x1="549.90" y1="191.00" x2="549.90" y2="224.00" stroke="#000" stroke-width="1.6"/>
<rect x="517.40" y="192.20" width="12.40" height="30.60" rx="2.0" fill="#C98A42" stroke="#000" stroke-width="1.3"/>
<rect x="518.90" y="193.70" width="9.40" height="3.50" rx="1.6" fill="#C98A42" stroke="#000" stroke-width="0.9"/>
<line x1="518.20" y1="199.80" x2="529.00" y2="199.80" stroke="#000" stroke-width="1.0"/>
<path d="M518.60 202.70 L520.80 200.20 L522.00 202.70Z" fill="#000" stroke="#000" stroke-width="0.8" />
<rect x="537.60" y="192.20" width="12.40" height="30.60" rx="2.0" fill="#C98A42" stroke="#000" stroke-width="1.3"/>
<rect x="539.10" y="193.70" width="9.40" height="3.50" rx="1.6" fill="#C98A42" stroke="#000" stroke-width="0.9"/>
<line x1="538.40" y1="199.80" x2="549.20" y2="199.80" stroke="#000" stroke-width="1.0"/>
<path d="M538.80 202.70 L541.00 200.20 L542.20 202.70Z" fill="#000" stroke="#000" stroke-width="0.8" />
<path d="M542.50 224.00 L548.00 227.50 L545.00 230.00 L549.40 232.80" fill="none" stroke="#000" stroke-width="1.1" />
<rect x="560.20" y="166.40" width="13.00" height="31.00" rx="2.0" fill="#C98A42" stroke="#000" stroke-width="1.3"/>
<rect x="561.70" y="167.90" width="10.00" height="3.50" rx="1.6" fill="#C98A42" stroke="#000" stroke-width="0.9"/>
<line x1="561.00" y1="174.00" x2="572.40" y2="174.00" stroke="#000" stroke-width="1.0"/>
<path d="M561.40 176.90 L563.60 174.40 L564.80 176.90Z" fill="#000" stroke="#000" stroke-width="0.8" />
<rect x="580.40" y="166.40" width="13.00" height="31.00" rx="2.0" fill="#C98A42" stroke="#000" stroke-width="1.3"/>
<rect x="581.90" y="167.90" width="10.00" height="3.50" rx="1.6" fill="#C98A42" stroke="#000" stroke-width="0.9"/>
<line x1="581.20" y1="174.00" x2="592.60" y2="174.00" stroke="#000" stroke-width="1.0"/>
<path d="M581.60 176.90 L583.80 174.40 L585.00 176.90Z" fill="#000" stroke="#000" stroke-width="0.8" />
<path d="M560.50 199.00 L564.00 202.00 L562.50 204.50 L566.80 205.50" fill="none" stroke="#000" stroke-width="1.1" />
<path d="M560.00 208.00 L575.00 208.00 L578.40 215.00 L581.80 208.00 L601.00 208.00" fill="none" stroke="#000" stroke-width="1.6" />
<rect x="561.80" y="210.50" width="10.00" height="11.00" rx="0" fill="none" stroke="#000" stroke-width="1.6"/>
<rect x="585.40" y="212.40" width="7.60" height="5.40" rx="2.0" fill="none" stroke="#000" stroke-width="1.3"/>
<rect x="585.40" y="219.60" width="7.60" height="4.40" rx="2.0" fill="none" stroke="#000" stroke-width="1.3"/>
<circle cx="578.60" cy="224.00" r="2.00" fill="none" stroke="#000" stroke-width="1.2"/>
<line x1="578.60" y1="226.00" x2="578.60" y2="228.00" stroke="#000" stroke-width="1.0"/>
<line x1="560.00" y1="208.00" x2="560.00" y2="231.00" stroke="#000" stroke-width="1.6"/>
<line x1="560.00" y1="231.00" x2="601.00" y2="231.00" stroke="#000" stroke-width="1.6"/>
<path d="M510.00 234.00 L528.80 234.00 L532.50 241.00 L536.30 234.00 L550.00 234.00" fill="none" stroke="#000" stroke-width="1.6" />
<rect x="518.00" y="238.40" width="6.40" height="3.60" rx="1.6" fill="none" stroke="#000" stroke-width="1.3"/>
<rect x="518.00" y="246.00" width="6.40" height="3.60" rx="1.6" fill="none" stroke="#000" stroke-width="1.3"/>
<circle cx="532.80" cy="249.80" r="2.00" fill="none" stroke="#000" stroke-width="1.2"/>
<line x1="532.80" y1="251.80" x2="532.80" y2="253.40" stroke="#000" stroke-width="1.0"/>
<rect x="539.40" y="236.50" width="9.40" height="10.50" rx="0" fill="none" stroke="#000" stroke-width="1.6"/>
<line x1="549.40" y1="232.80" x2="549.40" y2="255.30" stroke="#000" stroke-width="1.6"/>
<line x1="510.00" y1="256.20" x2="553.00" y2="256.20" stroke="#000" stroke-width="2.0"/>
<rect x="578.60" y="232.20" width="11.80" height="23.80" rx="0" fill="none" stroke="#000" stroke-width="1.6"/>
<line x1="578.60" y1="242.00" x2="590.40" y2="242.00" stroke="#000" stroke-width="1.2"/>
<line x1="578.60" y1="245.20" x2="590.40" y2="245.20" stroke="#000" stroke-width="1.2"/>
<line x1="578.60" y1="248.40" x2="590.40" y2="248.40" stroke="#000" stroke-width="1.2"/>
<line x1="578.60" y1="251.60" x2="590.40" y2="251.60" stroke="#000" stroke-width="1.2"/>
<path d="M578.8 241.0 C579.5 236.0 582.5 233.0 585.6 232.6 C588.4 233.6 590.0 236.0 590.4 239.0" fill="none" stroke="#000" stroke-width="1.3" />
<line x1="581.20" y1="236.20" x2="584.60" y2="241.80" stroke="#000" stroke-width="1.1"/>
<line x1="586.00" y1="233.40" x2="586.00" y2="241.80" stroke="#000" stroke-width="1.1"/>
<path d="M553.00 256.20 L571.60 256.20 L572.60 260.20 L575.00 262.00 L577.40 260.20 L578.20 256.20 L601.00 256.20" fill="none" stroke="#000" stroke-width="1.8" />
<line x1="514.40" y1="263.80" x2="514.40" y2="299.40" stroke="#000" stroke-width="1.6"/>
<circle cx="521.00" cy="263.00" r="2.60" fill="none" stroke="#000" stroke-width="1.3"/>
<path d="M514.40 266.00 L515.60 262.50 L518.40 261.00" fill="none" stroke="#000" stroke-width="1.2" />
<rect x="540.00" y="265.60" width="28.00" height="32.00" rx="2.2" fill="#C98A42" stroke="#000" stroke-width="1.3"/>
<rect x="541.80" y="290.60" width="11.20" height="4.80" rx="2.4" fill="#C98A42" stroke="#000" stroke-width="1.0"/>
<rect x="555.00" y="290.60" width="11.20" height="4.80" rx="2.4" fill="#C98A42" stroke="#000" stroke-width="1.0"/>
<line x1="540.80" y1="288.00" x2="567.20" y2="288.00" stroke="#000" stroke-width="1.1"/>
<path d="M541.20 285.10 L543.60 287.80 L545.00 285.10Z" fill="#000" stroke="#000" stroke-width="0.9" />
<rect x="584.20" y="268.80" width="9.40" height="15.60" rx="0" fill="none" stroke="#000" stroke-width="1.6"/>
<path d="M510.00 299.40 L531.20 299.40 L535.00 305.00 L538.80 299.40 L541.90 299.40" fill="none" stroke="#000" stroke-width="1.6" />
<line x1="541.90" y1="297.60" x2="541.90" y2="317.00" stroke="#000" stroke-width="1.6"/>
<rect x="542.50" y="300.60" width="10.50" height="15.60" rx="0" fill="none" stroke="#000" stroke-width="1.6"/>
<path d="M545.50 316.20 L547.80 313.50 L550.00 316.20" fill="none" stroke="#000" stroke-width="1.0" />
<line x1="553.00" y1="298.00" x2="576.80" y2="298.00" stroke="#000" stroke-width="1.6"/>
<line x1="553.00" y1="298.00" x2="553.00" y2="317.00" stroke="#000" stroke-width="1.6"/>
<path d="M576.80 293.80 L580.50 301.00 L584.20 293.80 L601.00 293.80" fill="none" stroke="#000" stroke-width="1.6" />
<rect x="588.00" y="295.60" width="3.80" height="4.80" rx="1.2" fill="none" stroke="#000" stroke-width="1.2"/>
<ellipse cx="563.80" cy="312.20" rx="3.00" ry="1.90" fill="none" stroke="#000" stroke-width="1.4"/>
<line x1="563.80" y1="312.20" x2="563.80" y2="316.00" stroke="#000" stroke-width="1.2"/>
<ellipse cx="572.40" cy="312.20" rx="3.00" ry="1.90" fill="none" stroke="#000" stroke-width="1.4"/>
<line x1="572.40" y1="312.20" x2="572.40" y2="316.00" stroke="#000" stroke-width="1.2"/>
<rect x="587.00" y="308.50" width="3.00" height="5.50" rx="1.0" fill="none" stroke="#000" stroke-width="1.2"/>
<line x1="510.00" y1="317.30" x2="600.80" y2="317.30" stroke="#000" stroke-width="1.3"/>
<line x1="510.00" y1="320.00" x2="600.80" y2="320.00" stroke="#000" stroke-width="1.3"/>
<line x1="510.00" y1="394.80" x2="600.80" y2="394.80" stroke="#000" stroke-width="1.3"/>
<line x1="531.00" y1="320.00" x2="531.00" y2="347.00" stroke="#000" stroke-width="2.6"/>
<path d="M544.50 320 L544.50 394.8 M546.80 320 L546.80 394.8" stroke="#444" stroke-width="0.9" fill="none"/>
<path d="M530.40 373 L530.40 394.8 M532.80 373 L532.80 394.8" stroke="#444" stroke-width="0.9" fill="none"/>
<path d="M536.6 336.8 C533.7 336.8 531.8 335.2 531.8 333.4 C531.6 331.0 532.8 328.6 534.6 328.8 C535.6 327.0 537.4 326.8 538.4 327.8 C539.8 326.6 541.6 327.4 542.4 329.0 C544.2 329.4 544.8 331.6 544.4 333.6 C543.8 335.4 542.4 336.8 540.0 336.8 Z" fill="none" stroke="#000" stroke-width="1.4" />
<path d="M536.60 336.80 L537.40 349.50 L538.60 349.50 L540.00 336.80" fill="none" stroke="#000" stroke-width="1.2" />
<path d="M529.60 347.00 L529.60 349.00 L528.70 350.00 L528.70 353.00 L529.60 354.00 L529.60 358.00 L528.70 359.00 L528.70 362.00 L529.60 363.00 L529.60 367.00 L528.80 368.00 L528.80 370.50 L529.60 371.50 L529.60 373.00" fill="none" stroke="#000" stroke-width="1.2" />
<path d="M532.00 347.00 L532.00 351.00 L532.80 352.00 L532.80 356.00 L532.00 357.00 L532.00 365.00 L532.80 366.00 L532.80 369.00 L532.00 370.00 L532.00 373.00" fill="none" stroke="#000" stroke-width="1.1" />
<path d="M547.60 347.00 L547.60 349.00 L548.50 350.00 L548.50 353.00 L547.60 354.00 L547.60 358.00 L548.50 359.00 L548.50 362.00 L547.60 363.00 L547.60 367.00 L548.40 368.00 L548.40 370.50 L547.60 371.50 L547.60 373.00" fill="none" stroke="#000" stroke-width="1.2" />
<path d="M545.00 347.00 L545.00 351.00 L544.20 352.00 L544.20 356.00 L545.00 357.00 L545.00 365.00 L544.20 366.00 L544.20 369.00 L545.00 370.00 L545.00 373.00" fill="none" stroke="#000" stroke-width="1.1" />
<line x1="529.60" y1="347.20" x2="547.60" y2="347.20" stroke="#000" stroke-width="1.0"/>
<line x1="565.00" y1="320.00" x2="565.00" y2="347.00" stroke="#000" stroke-width="2.6"/>
<path d="M578.50 320 L578.50 394.8 M580.80 320 L580.80 394.8" stroke="#444" stroke-width="0.9" fill="none"/>
<path d="M564.40 373 L564.40 394.8 M566.80 373 L566.80 394.8" stroke="#444" stroke-width="0.9" fill="none"/>
<path d="M570.6 336.8 C567.7 336.8 565.8 335.2 565.8 333.4 C565.6 331.0 566.8 328.6 568.6 328.8 C569.6 327.0 571.4 326.8 572.4 327.8 C573.8 326.6 575.6 327.4 576.4 329.0 C578.2 329.4 578.8 331.6 578.4 333.6 C577.8 335.4 576.4 336.8 574.0 336.8 Z" fill="none" stroke="#000" stroke-width="1.4" />
<path d="M570.60 336.80 L571.40 349.50 L572.60 349.50 L574.00 336.80" fill="none" stroke="#000" stroke-width="1.2" />
<path d="M563.60 347.00 L563.60 349.00 L562.70 350.00 L562.70 353.00 L563.60 354.00 L563.60 358.00 L562.70 359.00 L562.70 362.00 L563.60 363.00 L563.60 367.00 L562.80 368.00 L562.80 370.50 L563.60 371.50 L563.60 373.00" fill="none" stroke="#000" stroke-width="1.2" />
<path d="M566.00 347.00 L566.00 351.00 L566.80 352.00 L566.80 356.00 L566.00 357.00 L566.00 365.00 L566.80 366.00 L566.80 369.00 L566.00 370.00 L566.00 373.00" fill="none" stroke="#000" stroke-width="1.1" />
<path d="M581.60 347.00 L581.60 349.00 L582.50 350.00 L582.50 353.00 L581.60 354.00 L581.60 358.00 L582.50 359.00 L582.50 362.00 L581.60 363.00 L581.60 367.00 L582.40 368.00 L582.40 370.50 L581.60 371.50 L581.60 373.00" fill="none" stroke="#000" stroke-width="1.2" />
<path d="M579.00 347.00 L579.00 351.00 L578.20 352.00 L578.20 356.00 L579.00 357.00 L579.00 365.00 L578.20 366.00 L578.20 369.00 L579.00 370.00 L579.00 373.00" fill="none" stroke="#000" stroke-width="1.1" />
<line x1="563.60" y1="347.20" x2="581.60" y2="347.20" stroke="#000" stroke-width="1.0"/>
<path d="M552.8 373.5 C555.0 373.5 555.0 380.5 552.8 380.5 C550.6 380.5 550.6 373.5 552.8 373.5 Z" fill="#000"/>
<path d="M552.8 380.0 C555.6 380.0 555.6 389.7 552.8 389.7 C550.0 389.7 550.0 380.0 552.8 380.0 Z" fill="#000"/>
<ellipse cx="552.8" cy="376.5" rx="0.8" ry="1.6" fill="#fff"/>
<ellipse cx="552.8" cy="385.1" rx="1.1" ry="1.8" fill="#fff"/>
<path d="M557.6 373.5 C559.8 373.5 559.8 380.5 557.6 380.5 C555.4 380.5 555.4 373.5 557.6 373.5 Z" fill="#000"/>
<path d="M557.6 380.0 C560.4 380.0 560.4 389.7 557.6 389.7 C554.8 389.7 554.8 380.0 557.6 380.0 Z" fill="#000"/>
<ellipse cx="557.6" cy="376.5" rx="0.8" ry="1.6" fill="#fff"/>
<ellipse cx="557.6" cy="385.1" rx="1.1" ry="1.8" fill="#fff"/>
<text transform="translate(286.00 402.00) rotate(-90)" font-family="Liberation Sans, sans-serif" font-weight="bold" font-size="9.7" stroke="#000" stroke-width="0.4" textLength="45.0" lengthAdjust="spacingAndGlyphs" fill="#000">SUN DECK</text>
<text transform="translate(457.00 402.40) rotate(-90)" font-family="Liberation Sans, sans-serif" font-weight="bold" font-size="9.7" stroke="#000" stroke-width="0.4" textLength="52.4" lengthAdjust="spacingAndGlyphs" fill="#000">MAIN DECK</text>
<text transform="translate(631.40 402.10) rotate(-90)" font-family="Liberation Sans, sans-serif" font-weight="bold" font-size="9.7" stroke="#000" stroke-width="0.4" textLength="58.0" lengthAdjust="spacingAndGlyphs" fill="#000">LOWER DECK</text>
</svg>
</body></html>
